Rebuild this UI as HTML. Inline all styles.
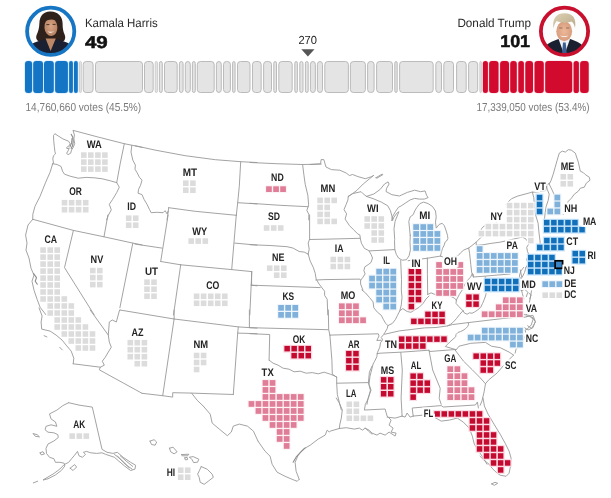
<!DOCTYPE html>
<html lang="en">
<head>
<meta charset="utf-8">
<title>Election results map</title>
<style>
html,body{margin:0;padding:0;background:#fff;}
body{width:611px;height:498px;overflow:hidden;font-family:"Liberation Sans",sans-serif;}
svg{display:block;will-change:transform;}
text{text-rendering:geometricPrecision;}
.st{fill:none;stroke:#989898;stroke-width:0.9;stroke-linejoin:round;stroke-linecap:round;}
.dk{fill:none;stroke:#8c8c8c;stroke-width:1.1;stroke-linejoin:round;stroke-linecap:round;}
.lab{font-family:"Liberation Sans",sans-serif;font-size:11px;font-weight:bold;fill:#242424;}
.halo{fill:#fff;stroke:#fff;stroke-width:3.2;stroke-linejoin:round;}
.nm{font-family:"Liberation Sans",sans-serif;font-size:12px;fill:#2a2a2a;}
.ev{font-family:"Liberation Sans",sans-serif;font-size:17.2px;font-weight:bold;fill:#111;stroke:#111;stroke-width:0.5;}
.vt{font-family:"Liberation Sans",sans-serif;font-size:11.6px;fill:#7a7a7a;}
.g{fill:#dcdcdc;}.lr{fill:#e07d97;}.dr{fill:#c50a30;}.lb{fill:#7fb1da;}.db{fill:#126fb9;}
</style>
</head>
<body>
<svg width="611" height="498" viewBox="0 0 611 498">
<rect width="611" height="498" fill="#fff"/>

<g id="header">
<defs>
<filter id="halo" color-interpolation-filters="sRGB" filterUnits="userSpaceOnUse" x="0" y="120" width="611" height="378">
<feMorphology in="SourceAlpha" operator="dilate" radius="1.5" result="d"/>
<feFlood flood-color="#fff" result="w"/>
<feComposite in="w" in2="d" operator="in" result="h"/>
<feMerge><feMergeNode in="h"/><feMergeNode in="SourceGraphic"/></feMerge>
</filter>
<clipPath id="cpH"><circle cx="50.7" cy="31.3" r="23"/></clipPath>
<clipPath id="cpT"><circle cx="564.5" cy="31.3" r="23"/></clipPath>
<radialGradient id="gfH" cx="0.5" cy="0.45" r="0.6"><stop offset="0" stop-color="#d9a585"/><stop offset="1" stop-color="#b47e5f"/></radialGradient>
<radialGradient id="gfT" cx="0.5" cy="0.5" r="0.6"><stop offset="0" stop-color="#edb899"/><stop offset="1" stop-color="#d39878"/></radialGradient>
<linearGradient id="ghT" x1="0" y1="0" x2="1" y2="1"><stop offset="0" stop-color="#ddd2b6"/><stop offset="1" stop-color="#b9a986"/></linearGradient>
</defs>
<g clip-path="url(#cpH)">
<rect x="25" y="5" width="52" height="53" fill="#fcfcfc"/>
<path d="M50.6 11.6 C43.5 11.2 39.6 16.5 39.4 23 C39.2 28 38.4 31.5 36.6 35 C35.6 37.5 36.4 39.6 38 41 L64 41 C65.4 39.4 65.6 37 64.6 34.6 C63 31 62.6 27.5 62.6 23.5 C62.6 16.6 58 11.9 50.6 11.6Z" fill="#2e201b"/>
<path d="M27 58 L29.5 46.5 C32.5 42.3 39 40.8 44.5 39.2 L57 39.2 C62.5 40.8 69 42.3 72 46.5 L74.5 58Z" fill="#1a2032"/>
<path d="M45.6 38.6 L50.6 51 L55.8 38.6Z" fill="#bd8767"/>
<ellipse cx="50.9" cy="27.2" rx="6.5" ry="8.9" fill="url(#gfH)" transform="rotate(-4 50.9 27.2)"/>
<path d="M43.6 22.6 C44.6 16.4 53.6 14.6 58 21.6 C54.6 18.6 47.6 18.6 43.6 22.6Z" fill="#2e201b"/>
<path d="M47.4 31.2 Q50.9 34.4 54.4 31 Q50.9 32.6 47.4 31.2Z" fill="#fff"/>
<path d="M46.4 24.6 h3 M52.6 24.4 h3" stroke="#3a261e" stroke-width="0.9" fill="none"/>
</g>
<circle cx="50.7" cy="31.3" r="23.6" fill="none" stroke="#1676c4" stroke-width="3.8"/>
<g clip-path="url(#cpT)">
<rect x="539" y="5" width="52" height="53" fill="#fcfcfc"/>
<path d="M543 58 L545.5 46.5 C548.5 42.3 554.5 40.6 558.8 39 L570 39 C574.3 40.6 580.3 42.3 583.3 46.5 L586 58Z" fill="#1a2030"/>
<path d="M558.4 38.4 L564.3 55 L570.2 38.4Z" fill="#eef1f6"/>
<path d="M563 42.6 L565.7 42.6 L566.9 55 L561.9 55Z" fill="#3a5f90"/>
<ellipse cx="564.2" cy="31.2" rx="7.9" ry="10" fill="url(#gfT)"/>
<path d="M553.6 28.6 C552 19.4 555.6 13.2 564.6 13.2 C573 13.2 576.6 18.6 575 28 C574.4 25 573.4 22.8 571.4 21.6 C567 23.6 560.4 22.6 556.8 21 C555 23 554 25.4 553.6 28.6Z" fill="url(#ghT)"/>
<path d="M559.8 35.4 Q564.2 38.6 568.6 35.4 Q564.2 37 559.8 35.4Z" fill="#fff"/>
<path d="M559.2 28 h3.2 M566 28 h3.2" stroke="#8a6a55" stroke-width="0.9" fill="none"/>
</g>
<circle cx="564.5" cy="31.3" r="23.6" fill="none" stroke="#c8102e" stroke-width="3.8"/>
<text class="nm" x="84.9" y="26.5" textLength="72.8" lengthAdjust="spacingAndGlyphs">Kamala Harris</text>
<text class="ev" x="84.9" y="47.8" textLength="22.9" lengthAdjust="spacingAndGlyphs">49</text>
<text class="nm" x="457.4" y="27.3" textLength="73.6" lengthAdjust="spacingAndGlyphs">Donald Trump</text>
<text class="ev" x="500.2" y="47.3" textLength="29.9" lengthAdjust="spacingAndGlyphs">101</text>
<text x="298.4" y="43.7" font-size="11.7" fill="#222" textLength="18.6" lengthAdjust="spacingAndGlyphs">270</text>
<path d="M301.3 49.3 L314.5 49.3 L307.9 56.5Z" fill="#555"/>
<rect x="24.4" y="60.4" width="8.3" height="33.2" rx="3.6" fill="#c6e4fb"/>
<rect x="25" y="61" width="7.1" height="32" rx="3" fill="#1575c5"/>
<rect x="32.6" y="60.4" width="11" height="33.2" rx="3.6" fill="#c6e4fb"/>
<rect x="33.2" y="61" width="9.8" height="32" rx="3" fill="#1575c5"/>
<rect x="43.4" y="60.4" width="11" height="33.2" rx="3.6" fill="#c6e4fb"/>
<rect x="44" y="61" width="9.8" height="32" rx="3" fill="#1575c5"/>
<rect x="54.5" y="60.4" width="14" height="33.2" rx="3.6" fill="#c6e4fb"/>
<rect x="55.1" y="61" width="12.8" height="32" rx="3" fill="#1575c5"/>
<rect x="68.5" y="60.4" width="5" height="33.2" rx="2.5" fill="#c6e4fb"/>
<rect x="69.1" y="61" width="3.8" height="32" rx="1.9" fill="#1575c5"/>
<rect x="73.4" y="60.4" width="5" height="33.2" rx="2.5" fill="#c6e4fb"/>
<rect x="74" y="61" width="3.8" height="32" rx="1.9" fill="#1575c5"/>
<rect x="79.4" y="61.4" width="2" height="31.2" rx="1.4" fill="#e6e6e6" stroke="#c0c0c0" stroke-width="0.7"/>
<rect x="83.2" y="61.5" width="9.9" height="31" rx="3" fill="#e4e4e4" stroke="#b4b4b4" stroke-width="0.9"/>
<rect x="95.5" y="61.5" width="47" height="31" rx="3" fill="#e4e4e4" stroke="#b4b4b4" stroke-width="0.9"/>
<rect x="144.5" y="61.5" width="8.7" height="31" rx="3" fill="#e4e4e4" stroke="#b4b4b4" stroke-width="0.9"/>
<rect x="155.2" y="61.4" width="2.2" height="31.2" rx="1.5" fill="#e6e6e6" stroke="#c0c0c0" stroke-width="0.7"/>
<rect x="159.4" y="61.5" width="2.9" height="31" rx="1.9" fill="#e4e4e4" stroke="#b4b4b4" stroke-width="0.9"/>
<rect x="164.5" y="61.5" width="12.7" height="31" rx="3" fill="#e4e4e4" stroke="#b4b4b4" stroke-width="0.9"/>
<rect x="179.4" y="61.5" width="3.7" height="31" rx="2.3" fill="#e4e4e4" stroke="#b4b4b4" stroke-width="0.9"/>
<rect x="185.3" y="61.5" width="5" height="31" rx="3" fill="#e4e4e4" stroke="#b4b4b4" stroke-width="0.9"/>
<rect x="192.4" y="61.5" width="2.9" height="31" rx="1.9" fill="#e4e4e4" stroke="#b4b4b4" stroke-width="0.9"/>
<rect x="197.3" y="61.5" width="16.9" height="31" rx="3" fill="#e4e4e4" stroke="#b4b4b4" stroke-width="0.9"/>
<rect x="216.4" y="61.5" width="4.9" height="31" rx="2.9" fill="#e4e4e4" stroke="#b4b4b4" stroke-width="0.9"/>
<rect x="223.5" y="61.5" width="6.9" height="31" rx="3" fill="#e4e4e4" stroke="#b4b4b4" stroke-width="0.9"/>
<rect x="232.6" y="61.5" width="2.5" height="31" rx="1.7" fill="#e4e4e4" stroke="#b4b4b4" stroke-width="0.9"/>
<rect x="237.5" y="61.5" width="12.5" height="31" rx="3" fill="#e4e4e4" stroke="#b4b4b4" stroke-width="0.9"/>
<rect x="252.5" y="61.5" width="8.7" height="31" rx="3" fill="#e4e4e4" stroke="#b4b4b4" stroke-width="0.9"/>
<rect x="263.6" y="61.5" width="7.9" height="31" rx="3" fill="#e4e4e4" stroke="#b4b4b4" stroke-width="0.9"/>
<rect x="273.8" y="61.5" width="2.7" height="31" rx="1.8" fill="#e4e4e4" stroke="#b4b4b4" stroke-width="0.9"/>
<rect x="278.8" y="61.5" width="13.4" height="31" rx="3" fill="#e4e4e4" stroke="#b4b4b4" stroke-width="0.9"/>
<rect x="294.8" y="61.5" width="2.6" height="31" rx="1.8" fill="#e4e4e4" stroke="#b4b4b4" stroke-width="0.9"/>
<rect x="299.8" y="61.5" width="3.2" height="31" rx="2" fill="#e4e4e4" stroke="#b4b4b4" stroke-width="0.9"/>
<rect x="305.4" y="61.5" width="2.8" height="31" rx="1.8" fill="#e4e4e4" stroke="#b4b4b4" stroke-width="0.9"/>
<rect x="310.4" y="61.5" width="5" height="31" rx="2.9" fill="#e4e4e4" stroke="#b4b4b4" stroke-width="0.9"/>
<rect x="317.4" y="61.5" width="5.1" height="31" rx="3" fill="#e4e4e4" stroke="#b4b4b4" stroke-width="0.9"/>
<rect x="324.8" y="61.5" width="23.6" height="31" rx="3" fill="#e4e4e4" stroke="#b4b4b4" stroke-width="0.9"/>
<rect x="350.4" y="61.5" width="15" height="31" rx="3" fill="#e4e4e4" stroke="#b4b4b4" stroke-width="0.9"/>
<rect x="367.6" y="61.5" width="6.5" height="31" rx="3" fill="#e4e4e4" stroke="#b4b4b4" stroke-width="0.9"/>
<rect x="376.6" y="61.5" width="15.9" height="31" rx="3" fill="#e4e4e4" stroke="#b4b4b4" stroke-width="0.9"/>
<rect x="394.8" y="61.5" width="2.4" height="31" rx="1.7" fill="#e4e4e4" stroke="#b4b4b4" stroke-width="0.9"/>
<rect x="399.6" y="61.5" width="33.6" height="31" rx="3" fill="#e4e4e4" stroke="#b4b4b4" stroke-width="0.9"/>
<rect x="435.8" y="61.5" width="5.7" height="31" rx="3" fill="#e4e4e4" stroke="#b4b4b4" stroke-width="0.9"/>
<rect x="443.8" y="61.5" width="9.7" height="31" rx="3" fill="#e4e4e4" stroke="#b4b4b4" stroke-width="0.9"/>
<rect x="456.6" y="61.5" width="9.6" height="31" rx="3" fill="#e4e4e4" stroke="#b4b4b4" stroke-width="0.9"/>
<rect x="468.6" y="61.5" width="9.1" height="31" rx="3" fill="#e4e4e4" stroke="#b4b4b4" stroke-width="0.9"/>
<rect x="479.8" y="61.4" width="1.6" height="31.2" rx="1.2" fill="#e6e6e6" stroke="#c0c0c0" stroke-width="0.7"/>
<rect x="482.3" y="60.4" width="6.2" height="33.2" rx="3.1" fill="#fad5dd"/>
<rect x="482.9" y="61" width="5" height="32" rx="2.5" fill="#d20a2e"/>
<rect x="488.5" y="60.4" width="10.6" height="33.2" rx="3.6" fill="#fad5dd"/>
<rect x="489.1" y="61" width="9.4" height="32" rx="3" fill="#d20a2e"/>
<rect x="499.5" y="60.4" width="10.1" height="33.2" rx="3.6" fill="#fad5dd"/>
<rect x="500.1" y="61" width="8.9" height="32" rx="3" fill="#d20a2e"/>
<rect x="509.6" y="60.4" width="7.8" height="33.2" rx="3.6" fill="#fad5dd"/>
<rect x="510.2" y="61" width="6.6" height="32" rx="3" fill="#d20a2e"/>
<rect x="517.7" y="60.4" width="6.8" height="33.2" rx="3.4" fill="#fad5dd"/>
<rect x="518.3" y="61" width="5.6" height="32" rx="2.8" fill="#d20a2e"/>
<rect x="524.7" y="60.4" width="8.9" height="33.2" rx="3.6" fill="#fad5dd"/>
<rect x="525.3" y="61" width="7.7" height="32" rx="3" fill="#d20a2e"/>
<rect x="533.9" y="60.4" width="10.5" height="33.2" rx="3.6" fill="#fad5dd"/>
<rect x="534.5" y="61" width="9.3" height="32" rx="3" fill="#d20a2e"/>
<rect x="544.6" y="60.4" width="28.2" height="33.2" rx="3.6" fill="#fad5dd"/>
<rect x="545.2" y="61" width="27" height="32" rx="3" fill="#d20a2e"/>
<rect x="573" y="60.4" width="6.5" height="33.2" rx="3.2" fill="#fad5dd"/>
<rect x="573.6" y="61" width="5.3" height="32" rx="2.6" fill="#d20a2e"/>
<rect x="579.5" y="60.4" width="9.8" height="33.2" rx="3.6" fill="#fad5dd"/>
<rect x="580.1" y="61" width="8.6" height="32" rx="3" fill="#d20a2e"/>
<text class="vt" x="25.5" y="110.7" textLength="115.6" lengthAdjust="spacingAndGlyphs">14,760,660 votes (45.5%)</text>
<text class="vt" x="476.4" y="110.7" textLength="113.2" lengthAdjust="spacingAndGlyphs">17,339,050 votes (53.4%)</text>
</g>
<g id="borders" class="st">
<path d="M73.2 130.4 L98.3 137.1 L124.3 143.7 L142 147.3"/>
<path d="M52.7 163.7 L57.1 164.5 L61.1 166.5 L62.5 171.2 L64.5 174.2 L70.2 176.2 L78.2 178.2 L86.2 177.4 L94.2 177.8 L102.3 178.8 L110.3 180.8 L116.7 182.6"/>
<path d="M124.3 143.7 L120.3 163.1 L116.7 182.6"/>
<path d="M52.7 163.7 L50.1 172.2 L45.7 182.2 L40.1 196.2 L35 206.3 L32.8 214.3 L32.8 219.3"/>
<path d="M116.7 182.6 L119.3 187.2 L116.7 192.6 L112.7 199.3 L109.3 204.3 L111.3 209.9 L108.3 215.3 L106.7 219.9"/>
<path d="M135 145.7 L155.1 150.1 L185.2 155.7 L215.3 159.7 L240.7 161.7 L257 162.5"/>
<path d="M240.7 161.7 L239.3 186.2 L237.7 202.7 L236.3 215.3"/>
<path d="M237.7 202.7 L257 203.9"/>
<path d="M168.7 207.7 L195.2 211.3 L236.3 215.3"/>
<path d="M168.7 207.7 L167.1 219.9"/>
<path d="M131.8 145.3 L131 152.1 L132.8 160.1 L135.4 165.1 L135 169.2 L137 172.6 L139.4 177.2 L142 180.2 L140.6 185.2 L138.6 189.2 L138 193.2 L142 194.6 L144 199.3 L147 204.3 L149.4 209.3 L151.1 212.7 L157.1 212.3 L163.1 212.7 L165.1 210.7 L167.1 213.9 L168.1 211.3"/>
<path d="M250 162.5 L276.1 163.7 L302.6 164.5 L321.2 164.1"/>
<path d="M302.6 164.5 L303.8 174.2 L305.2 184.2 L307.8 195.2 L308.6 204.3 L308.2 206.7 L306.8 210.3 L308.8 214.3 L308.8 219.9"/>
<path d="M250 203.3 L280.1 205.3 L308.2 206.7"/>
<path d="M549.2 184.2 L551.2 180.2 L553.2 174.2 L555.2 167.2 L557.2 160.1 L559.3 153.1 L562.3 151.1 L565.3 152.1 L568.3 149.7 L571.3 150.1 L575.3 153.1 L578.3 162.1 L580.3 171.2 L583.3 172.6 L585.3 174.6 L589.3 177.2 L590 180.2 L586.3 183.2 L584.3 187.2 L580.3 188.2 L578.3 191.2 L574.3 194.2 L571.3 198.3 L568.3 201.3 L566.3 205.3 L564.3 208.3 L563.3 214.3"/>
<path d="M549.2 184.2 L552.2 190.2 L560.3 208.3"/>
<path d="M546.2 184.6 L547.2 189.2 L549.2 194.2 L548.2 200.3 L546.2 206.3 L545.2 212.3 L544.6 218.3"/>
<path d="M32.8 219.3 L73.4 230.4 L104 236.8 L132.8 243.1 L142 244.9"/>
<path d="M73.4 230.4 L64.5 267.6 L94.2 314.9"/>
<path d="M132.8 243.1 L119.9 307.7"/>
<path d="M107.9 215 L104 236.8"/>
<path d="M32.8 219.3 L28 225 L25.6 235.1 L27 243.1 L26 250.1 L29 258.1 L31 268.2 L34 275.2 L32 281.2 L34 290.2 L37.1 299.3 L40.1 307.3 L46.1 314.9"/>
<path d="M168.1 215 L160.7 261.5"/>
<path d="M135 244.1 L162.1 248.1"/>
<path d="M160.7 261.5 L180.7 264.8"/>
<path d="M180.7 264.8 L173.5 314.9"/>
<path d="M180.7 264.8 L231.7 269.6 L251.8 271.6"/>
<path d="M236.3 215 L231.7 269.6"/>
<path d="M251.8 271.6 L249.8 314.9"/>
<path d="M234.7 243.1 L257 245.1"/>
<path d="M251 285.2 L257 285.8"/>
<path d="M250 244.7 L270.1 245.5 L287.1 246.7 L293.1 248.1 L299.2 251.5 L304.2 252.1 L308.2 254.1"/>
<path d="M309.6 215 L309.6 239.1 L308.2 243.1 L309.2 249.1 L308.2 254.1"/>
<path d="M308.2 254.1 L310.2 261.1 L313.2 267.2 L315.2 273.2 L316.2 279.2 L319.2 284.2 L324.6 291.2 L324.6 295.3 L327.2 299.3 L327.8 314.9"/>
<path d="M251.6 285.2 L320.2 287.6"/>
<path d="M251.6 272.2 L251.6 285.2"/>
<path d="M408.1 260.7 L428.2 258.1 L440.2 256.1"/>
<path d="M39.1 308 L42.1 316 L41.1 322 L41.7 329.1 L50.1 331.1 L56.1 335.1 L62.1 340.1 L66.1 345.1 L71.2 351.1 L73.8 358.2 L73.2 363.8"/>
<path d="M73.2 363.8 L100.3 367.2"/>
<path d="M119.9 310 L119.3 311 L116.3 322 L112.3 320 L109.3 322 L108.3 335.1 L109.3 342.1 L111.3 347.1 L108.3 352.1 L105.3 357.2 L102.3 361.2 L104.3 365.2 L100.3 367.2 L99.3 369.8 L142 393.3"/>
<path d="M90.2 310 L108.3 335.1"/>
<path d="M44.1 335.7 L46.9 336.9"/>
<path d="M59.7 347.3 L62.3 349.9"/>
<path d="M119.9 310 L174.1 319 L238.3 326.9 L257 328.1"/>
<path d="M237.7 333.1 L257 333.7"/>
<path d="M238.3 326.9 L237.7 333.1 L233.3 394.5"/>
<path d="M174.1 319 L162.7 395.7"/>
<path d="M142 393.3 L162.7 395.7 L172.7 397.1 L172.7 392.7 L191.6 393.1 L233.3 394.5"/>
<path d="M191.6 393.1 L197.2 400.3 L203.2 406"/>
<path d="M174.1 310 L174.1 319"/>
<path d="M249.4 310 L249.4 327.7"/>
<path d="M250 327.7 L328.3 329.7"/>
<path d="M250 333.7 L269.7 334.5 L269.1 360.2"/>
<path d="M269.1 360.2 L273.1 363.2 L278.1 365.2 L283.1 368.2 L289.1 369.2 L294.1 371.8 L300.2 371.2 L306.2 373.2 L312.2 372.6 L318.2 373.8 L324.2 372.2 L330.3 374.2 L334.3 375.8 L336.7 377.2"/>
<path d="M328.3 310 L328.7 329.7 L329.9 335.1"/>
<path d="M329.9 335.1 L331.9 360.2 L332.3 374.2 L336.7 377.2"/>
<path d="M336.7 377.2 L336.7 383.2 L337.3 394.3 L339.3 402.3 L341.3 409.9"/>
<path d="M336.7 383.2 L368.4 382.6"/>
<path d="M372 366.2 L369.4 372.2 L368.4 382.6 L370.4 390.3 L368.4 398.3 L365.4 404.3 L364.4 409.9"/>
<path d="M523.1 317.6 L529.2 316 L533.2 319 L531.2 325 L527.2 329.1 L525.1 330.1 L526.1 334.1 L523.1 340.1 L520.1 345.1 L516.1 349.1 L515.1 353.1"/>
<path d="M150 441.1 L154.1 439.7 L156.7 442.1 L155.1 445.2 L151.5 444.5 L150 441.1"/>
<path d="M169.5 448.2 L173.1 447.2 L177.1 451.8 L174.1 453.8 L170.7 451.8 L169.5 448.2"/>
<path d="M181.5 454.6 L188.8 454.2 L187.6 455.8 L182.2 455.8 L181.5 454.6"/>
<path d="M184.8 457.8 L187.2 457.4 L187.6 459.6 L185.2 459.8 L184.8 457.8"/>
<path d="M189.6 457.2 L193.2 456.6 L198.8 459.2 L197.6 462.2 L193.6 462.6 L192.2 459.8 L189.6 457.2"/>
<path d="M201.2 466.6 L207.2 469.2 L212.2 474.2 L213.3 477.3 L208.2 481.3 L204.2 484.3 L200.2 482.3 L199.2 477.3 L197.6 474.2 L199.6 470.2 L201.2 466.6"/>
<path d="M203.2 406 L210.2 414.1 L212.2 423.1 L219.3 429.1 L227.3 435.7 L231.3 432.1 L233.3 426.1 L239.3 424.1 L247.4 426.1 L253.4 431.1 L258 441.1"/>
<path d="M258 441.1 L265 451.2 L270.1 456.2 L272.1 464.2 L277.1 472.2 L285.1 476.3 L292.1 479.3 L297.2 481.3 L299.2 479.3"/>
<path d="M299.2 479.3 L296.1 471.2 L295.1 462.2 L298.2 455.2 L303.2 449.2 L310.2 445.2 L318.2 439.1 L325.2 435.1 L327.2 430.1 L329.3 432.1 L330.3 431.1 L339.3 428.5"/>
<path d="M339.3 428.5 L346.3 427.7 L354.3 429.1 L359.3 428.1 L362.4 430.1 L365.4 428.1 L368.4 431.1 L372 434.1"/>
<path d="M336.3 398 L339.3 403 L342.3 410 L341.3 418.1 L339.9 424.1 L339.3 428.5"/>
<path d="M365 410 L385.1 409 L387.1 416.1 L391.1 420.1 L389.1 425.1 L393.1 428.1 L391.1 432.1 L396.1 433.1 L395.1 436.1 L389.1 432.1 L385.1 435.1 L380 433.1 L377 435.1 L372 433.1 L369 430.1 L365 428.1"/>
<path d="M387.1 417.1 L395.1 418.1 L402.1 416.1"/>
<path d="M402.1 416.1 L405.1 417.1 L407.1 413 L410.1 417.1 L413.2 416.1"/>
<path d="M413.2 416.1 L412.2 408 L441.2 405.6 L443.3 407 L475.4 405 L477.4 402 L478.4 408"/>
<path d="M413.2 416.1 L423.2 415.1 L434.2 417.1 L441.2 421.1 L449.3 420.1 L457.3 418.1 L463.3 422.1 L469.3 428.1 L472.3 436.1 L474.3 444.1 L479.4 452.2 L483.4 458.2 L487 464.2"/>
<path d="M483 398 L484.4 406 L488 414.1 L494 424.1 L500.1 434.1 L505.1 443.1 L509.1 451.2 L511.1 458.2 L510.5 466.2 L509.1 473.2 L506.1 476.3 L500.1 475.2 L496.1 472.2 L492 468.2 L489 464.2 L484 460.2 L480 456.2"/>
<path d="M491.6 483.9 L495 482.3 L497.7 483.3 L494.4 485.3 L491.6 483.9"/>
<path d="M429 350.2 L432.7 370 L440.2 388.3 L439.2 398.3 L441.2 404.3"/>
<path d="M520.3 270 L521.8 277.4 L519.6 284.9 L521.1 290.8 L524.8 289.3 L527.8 292.3 L526.3 296.7"/>
<path d="M531.5 290.8 L530 299.7 L527.8 308.6 L526.3 314.6"/>
<path d="M524.1 314.6 L528.5 315.3 L533 317.8 L535.2 321.7 L533 327.6 L528.1 330 L524.8 327.9"/>
<path d="M523.8 267.3 L520.8 271 L519.3 276.2 L522.3 281.4 L520.8 287.4 L522.3 293.3 L523.8 299"/>
<path d="M526 267.3 L524.5 272.5 L522.3 277"/>
<path d="M529 293.3 L531.2 294.8 L529.7 299"/>
<path d="M310 164.5 L320.6 163.8 L321.1 159.6 L323.8 159.6 L326 167 L331.3 169.6 L339.8 170.2 L346.2 173 L349.4 175.5 L352.6 174.5 L357.9 176.6 L365.3 178.7 L371.7 176.6 L373.8 175.3 L369.6 178.7 L363.2 184 L356.8 190.4 L352.6 193.6 L348.3 196.4"/>
<path d="M376 177.7 L382.3 174 L382.8 174.7 L376.6 178.3 L376 177.7"/>
<path d="M348.3 196.4 L352.6 193.6 L361.1 191.7 L363.2 193.8 L366.4 196.4"/>
<path d="M366.4 196.4 L373.8 198.9 L381.3 202.1 L387.7 205.7 L390.4 210.6 L391.9 216 L392.6 220.2"/>
<path d="M366.4 196.4 L373.8 194 L380.2 189.4 L384.5 184 L388.1 181.9 L389.1 184 L386.6 188.3 L386 191.5 L391.9 194.7 L399.4 196 L407.3 192.4 L414.7 190.2 L420.6 191.7 L425.1 190.9 L426.6 195.4 L428.1 197.6 L424.4 199.1 L419.2 199.1 L414.7 198.4 L410.2 199.9 L405.8 202.8 L401.3 205.8 L398.4 207.3 L395.4 211.7 L392.4 216.9 L391.7 220.6"/>
<path d="M348.3 196.4 L347.9 200 L346.2 204.3 L344 209.6 L346.6 213.8 L345.1 219.1 L349.4 225.5 L353.6 229.8 L357.9 234 L359.9 235 L360.3 238.3 L361.4 243.2 L364.4 248.4 L368.8 250.6 L371 254.3 L372.5 258 L371 262.5 L368.1 264.7 L364.8 266.9 L363.9 270.6 L365.1 273.9 L362.9 277.3 L360.6 280.3 L360.6 284 L362.9 290"/>
<path d="M392.6 220.2 L394 217 L397.2 212.8 L398.9 211.7 L396.8 217 L395.1 221.3 L394 228.7 L394.7 239.4 L394.5 240.9 L394.8 249.6 L396.3 254.3 L398.5 258 L402.2 260.2 L406.4 259.7 L409.1 255.8 L410.4 249.9 L410 242.4 L410.3 235"/>
<path d="M309.6 239.5 L325 239.2 L360.3 238.3"/>
<path d="M369.3 250.9 L394.8 249.6"/>
<path d="M315.8 280 L325 279.6 L359.9 279.1 L360.6 280.3"/>
<path d="M506.2 204 L511.5 198.7 L517.9 196 L531.7 192.3 L536.4 192 L545.5 190.9 L547.2 184.6 L549.3 183.2"/>
<path d="M532.3 191.9 L533.8 197.7 L534.9 212.6 L538.1 223.2 L539.1 233.8 L540.2 242.3 L539.1 248.7"/>
<path d="M455.5 350.6 L459 346.2 L470.8 343.3 L485.5 342.4 L491.4 346.2 L500.3 347.7 L509.1 352.1 L513.6 355.1"/>
<path d="M455.5 350.6 L463.4 361 L472.3 369.8 L479.6 377.2 L485.5 383.7"/>
<path d="M513.6 355.1 L506.2 362.4 L497.3 372.8 L488.5 380.1 L485.5 383.7 L484.1 391.9 L482 400.8 L480.2 405.2"/>
<path d="M377 353.6 L380 353.2 L402.3 352.1 L429 350.2 L429.5 351.5 L455.5 349.5"/>
<path d="M400.8 352.7 L402.3 370 L401.1 398 L402.1 416.1"/>
<path d="M68.7 402.7 L79 405.1 L92.3 407.1 L102 449.3 L107 452.3 L112.9 453.4 L117.3 452.3 L123.2 457.3 L130.6 462.3 L135.6 465.2 L135 469.1 L130.6 470.5 L124.7 466.1 L118.8 461.1 L114.4 457.3 L110 455.8 L105.5 454.3 L102 452.8 L96.7 453.4 L90.8 452.8 L86.4 451.4 L83.4 452.3 L85.5 454.3 L82.5 457.3 L79 455.8 L77.5 451.4 L74.6 455.2 L71.6 458.7 L68.7 462.3 L64.2 464.6 L59.8 469.1 L53.9 473.5 L48 477 L43 480 L48 478.8 L55.4 475 L61.3 470.5 L64.8 466.1 L64.2 463.2 L59.8 462.3 L55.4 462.3 L53.9 458.7 L49.5 457.3 L46.5 453.4 L46 448.4 L48 444 L53.9 441 L58.3 437.5 L57.8 434.6 L53.9 432.8 L48 432.2 L45.1 429.8 L46 426.3 L51 424.8 L56.9 426.3 L55.4 421.9 L51 418.9 L49.5 413.9 L56.9 410.1 L62.8 405.6 L68.7 402.7"/>
<path d="M114.4 454.3 L121.8 460.2 L127.7 466.1 L132.1 469.1"/>
<path d="M117.3 455.8 L123.2 462.3 L129.1 467.6"/>
<path d="M120.3 455.8 L126.2 461.1 L132.7 466.4"/>
<path d="M70.1 468.2 L74.6 464.6 L76.6 467 L73.1 470.5 L70.1 468.2"/>
<path d="M33.3 433.7 L37.1 434.6 L39.5 436.9 L35.3 436.3 L33.3 433.7"/>
<path d="M40.1 452.8 L43 451.7 L44.5 454 L41.2 454.9 L40.1 452.8"/>
<path d="M33.3 482.9 L37.7 481.2"/>
<path d="M526.4 316.6 L532.9 315.3 L535.5 321.9 L531.6 328.4 L527.7 325.8"/>
<path d="M73.2 130.9 L74.4 134.9 L73.9 138.9 L74.7 143.5 L73.2 147.5 L71.5 150 L70.7 153.2 L68.1 154.6 L66.6 153.4 L68.1 150.9 L69.2 148.1 L66.9 148.6 L66.6 147.5 L69.6 145.4 L70 143.5 L68.6 141.2 L62.9 138.9 L58.3 136 L54.9 133.7 L53.5 135.5 L53.7 140.6 L54.3 146.3 L54.9 151.5 L55.5 153.8 L53.5 155.7 L52.8 158.9 L53.5 163 L52.6 164.1"/>
<path d="M410.2 235.5 L409.5 228.1 L408.8 221.4 L410.2 216.9 L413.2 214.7 L414.7 211 L416.9 207.3 L419.9 203.6 L423.6 202.1 L428.1 203.6 L432.5 206.5 L435.5 211 L436.2 216.9 L435.5 222.1 L436.2 228.1 L439.2 224.4 L442.2 223.3 L444.4 225.8 L446.2 231 L447.5 235.3 L447.9 238.5 L446.6 241 L445 242.2 L444.2 245.1 L442.5 248.4 L441.3 252.5 L440.5 256.1"/>
<path d="M361.9 290 L365.6 293 L369.4 297.4 L373.1 301.9 L373.8 307.8 L377.5 312.3 L381.2 315.2 L383.5 319.7 L385.7 323.4 L387.9 325.6 L387.2 328.6 L385 332.3 L383.5 334.6 L381.2 337.5 L382.7 339.8 L380.5 342.7 L379.8 347.2 L377.5 352.4 L376.8 356.8 L374.6 361.3 L373.1 364 L370 376.2 L369 384.2 L371 390.3 L368 398.3 L367 404.3"/>
<path d="M387.9 325.6 L392.4 323.4 L395.3 319.7 L397.6 315.2 L399.8 310.8 L402.8 308.6 L407.2 311.5 L410.9 312.3 L419.4 307.1 L423.1 303.4 L426 299 L429 296"/>
<path d="M400.7 260.5 L401.5 279.6 L401.3 290 L402 297.4 L401.3 304.9 L399.8 310.8"/>
<path d="M329.9 335.1 L378.3 333.8 L379 336 L376.8 340.5 L381.2 340.2"/>
<path d="M427.4 258 L427.4 274.3 L427.7 294.4"/>
<path d="M427.7 294.4 L431.1 292.9 L434.9 294.4 L439.3 295.8 L444.5 295.1 L449.7 295.8 L454.2 298.1 L456.4 300"/>
<path d="M456.4 300 L459.4 294.4 L462.3 289.9 L464.6 284.7 L467.5 280.2 L470.5 277.3 L472.3 273.6"/>
<path d="M473.2 274.3 L473.5 277 L485.3 276.1 L510 274"/>
<path d="M485.3 276.7 L486.1 291.4"/>
<path d="M384.5 334.3 L399.3 330.9 L424.6 327.9 L436 327.5 L447.5 325.9 L452.4 324.6 L468.3 322.6 L486 320.5 L503.9 318.4 L523.3 316.5"/>
<path d="M463 310.7 L459.7 314.4 L456.5 318.5 L453.6 321.8 L450.7 324.2 L447.5 325.9"/>
<path d="M456.4 300 L456 303.4 L458.9 306.6 L463 310.7"/>
<path d="M463 310.7 L464.6 313.2 L467.1 314.2 L469.6 312.8 L472 313.3 L474.5 312 L477.7 309.9 L480.6 307.5 L482.6 303.4 L484.3 299.3 L485.5 296 L486.1 293.6"/>
<path d="M455.5 349.5 L445.3 346.5 L449.8 342 L455.7 336.8 L456 334.5 L458.1 332.4 L460.5 331.6 L463 330.4 L465.5 328.7 L467.5 326.7 L468.7 324.2 L468.3 322.6"/>
<path d="M440.5 256.1 L444 257.5 L448 256.5 L452 257.5 L455.5 256.8 L458.1 255.7 L460.5 252.9 L463.8 250 L468.7 248 L472 245.5 L476.1 242.2 L478.6 239.8 L480.6 237.7 L481.7 237 L479.6 233.4 L481.7 228.5 L483.8 226.2 L490.2 224.5 L496.6 223.2"/>
<path d="M468.7 248 L469.6 253.3 L470.8 264.7 L471.6 272 L473.3 277.2"/>
<path d="M476.1 242.2 L476.3 245.4 L483 244.8 L490.1 243.5 L500 242.2 L511.9 239.5 L522.3 237 L526 239.1 L529 243.6 L526.7 247.3 L527.5 251.7 L529 254.7 L526.7 259.2 L528.2 263.6 L526 267.3"/>
</g>
<g id="blobs" class="dk">
<path d="M33.6 273.6 L36.5 277.6 L35.2 281.2 L37.3 284.2"/>
<path d="M293.1 462.2 L296.1 457.2 L300.2 452.6 L305.2 447.8"/>
<path d="M71.2 134.3 L72.8 137.2 L73.2 141.8 L72.5 145.8 L71.2 148.4"/>
<path d="M72.1 138.3 L71.6 142.9 L70 146.9"/>
</g>
<g id="squares">
<rect x="79.8" y="151.2" width="7.9" height="7.9" fill="#fff"/>
<rect x="86.9" y="151.2" width="7.9" height="7.9" fill="#fff"/>
<rect x="93.9" y="151.2" width="7.9" height="7.9" fill="#fff"/>
<rect x="101" y="151.2" width="7.9" height="7.9" fill="#fff"/>
<rect x="79.8" y="158.1" width="7.9" height="7.9" fill="#fff"/>
<rect x="86.9" y="158.1" width="7.9" height="7.9" fill="#fff"/>
<rect x="93.9" y="158.1" width="7.9" height="7.9" fill="#fff"/>
<rect x="101" y="158.1" width="7.9" height="7.9" fill="#fff"/>
<rect x="79.8" y="165.1" width="7.9" height="7.9" fill="#fff"/>
<rect x="86.9" y="165.1" width="7.9" height="7.9" fill="#fff"/>
<rect x="93.9" y="165.1" width="7.9" height="7.9" fill="#fff"/>
<rect x="101" y="165.1" width="7.9" height="7.9" fill="#fff"/>
<rect class="g" x="81" y="152.3" width="5.6" height="5.6"/>
<rect class="g" x="88" y="152.3" width="5.6" height="5.6"/>
<rect class="g" x="95.1" y="152.3" width="5.6" height="5.6"/>
<rect class="g" x="102.1" y="152.3" width="5.6" height="5.6"/>
<rect class="g" x="81" y="159.3" width="5.6" height="5.6"/>
<rect class="g" x="88" y="159.3" width="5.6" height="5.6"/>
<rect class="g" x="95.1" y="159.3" width="5.6" height="5.6"/>
<rect class="g" x="102.1" y="159.3" width="5.6" height="5.6"/>
<rect class="g" x="81" y="166.3" width="5.6" height="5.6"/>
<rect class="g" x="88" y="166.3" width="5.6" height="5.6"/>
<rect class="g" x="95.1" y="166.3" width="5.6" height="5.6"/>
<rect class="g" x="102.1" y="166.3" width="5.6" height="5.6"/>
<rect x="60.5" y="198.8" width="7.9" height="7.9" fill="#fff"/>
<rect x="67.6" y="198.8" width="7.9" height="7.9" fill="#fff"/>
<rect x="74.6" y="198.8" width="7.9" height="7.9" fill="#fff"/>
<rect x="81.7" y="198.8" width="7.9" height="7.9" fill="#fff"/>
<rect x="60.5" y="205.7" width="7.9" height="7.9" fill="#fff"/>
<rect x="67.6" y="205.7" width="7.9" height="7.9" fill="#fff"/>
<rect x="74.6" y="205.7" width="7.9" height="7.9" fill="#fff"/>
<rect x="81.7" y="205.7" width="7.9" height="7.9" fill="#fff"/>
<rect class="g" x="61.7" y="199.9" width="5.6" height="5.6"/>
<rect class="g" x="68.8" y="199.9" width="5.6" height="5.6"/>
<rect class="g" x="75.8" y="199.9" width="5.6" height="5.6"/>
<rect class="g" x="82.9" y="199.9" width="5.6" height="5.6"/>
<rect class="g" x="61.7" y="206.9" width="5.6" height="5.6"/>
<rect class="g" x="68.8" y="206.9" width="5.6" height="5.6"/>
<rect class="g" x="75.8" y="206.9" width="5.6" height="5.6"/>
<rect class="g" x="82.9" y="206.9" width="5.6" height="5.6"/>
<rect x="124.8" y="214.2" width="7.9" height="7.9" fill="#fff"/>
<rect x="131.8" y="214.2" width="7.9" height="7.9" fill="#fff"/>
<rect x="124.8" y="221.2" width="7.9" height="7.9" fill="#fff"/>
<rect x="131.8" y="221.2" width="7.9" height="7.9" fill="#fff"/>
<rect class="g" x="125.9" y="215.4" width="5.6" height="5.6"/>
<rect class="g" x="132.9" y="215.4" width="5.6" height="5.6"/>
<rect class="g" x="125.9" y="222.4" width="5.6" height="5.6"/>
<rect class="g" x="132.9" y="222.4" width="5.6" height="5.6"/>
<rect x="181.9" y="179.2" width="7.9" height="7.9" fill="#fff"/>
<rect x="188.9" y="179.2" width="7.9" height="7.9" fill="#fff"/>
<rect x="181.9" y="186.2" width="7.9" height="7.9" fill="#fff"/>
<rect x="188.9" y="186.2" width="7.9" height="7.9" fill="#fff"/>
<rect class="g" x="183" y="180.4" width="5.6" height="5.6"/>
<rect class="g" x="190.1" y="180.4" width="5.6" height="5.6"/>
<rect class="g" x="183" y="187.4" width="5.6" height="5.6"/>
<rect class="g" x="190.1" y="187.4" width="5.6" height="5.6"/>
<rect x="187.2" y="237.2" width="7.9" height="7.9" fill="#fff"/>
<rect x="194.3" y="237.2" width="7.9" height="7.9" fill="#fff"/>
<rect x="201.3" y="237.2" width="7.9" height="7.9" fill="#fff"/>
<rect class="g" x="188.4" y="238.3" width="5.6" height="5.6"/>
<rect class="g" x="195.4" y="238.3" width="5.6" height="5.6"/>
<rect class="g" x="202.5" y="238.3" width="5.6" height="5.6"/>
<rect x="265.1" y="185.2" width="7.9" height="7.9" fill="#fdf3f5"/>
<rect x="272.1" y="185.2" width="7.9" height="7.9" fill="#fdf3f5"/>
<rect x="279.2" y="185.2" width="7.9" height="7.9" fill="#fdf3f5"/>
<rect class="lr" x="266.1" y="186.3" width="5.7" height="5.7"/>
<rect class="lr" x="273.2" y="186.3" width="5.7" height="5.7"/>
<rect class="lr" x="280.2" y="186.3" width="5.7" height="5.7"/>
<rect x="262.7" y="224.1" width="7.9" height="7.9" fill="#fff"/>
<rect x="269.7" y="224.1" width="7.9" height="7.9" fill="#fff"/>
<rect x="276.8" y="224.1" width="7.9" height="7.9" fill="#fff"/>
<rect class="g" x="263.8" y="225.2" width="5.6" height="5.6"/>
<rect class="g" x="270.9" y="225.2" width="5.6" height="5.6"/>
<rect class="g" x="277.9" y="225.2" width="5.6" height="5.6"/>
<rect x="265.8" y="264.2" width="7.9" height="7.9" fill="#fff"/>
<rect x="272.8" y="264.2" width="7.9" height="7.9" fill="#fff"/>
<rect x="279.9" y="264.2" width="7.9" height="7.9" fill="#fff"/>
<rect x="272.8" y="271.2" width="7.9" height="7.9" fill="#fff"/>
<rect x="279.9" y="271.2" width="7.9" height="7.9" fill="#fff"/>
<rect class="g" x="266.9" y="265.4" width="5.6" height="5.6"/>
<rect class="g" x="273.9" y="265.4" width="5.6" height="5.6"/>
<rect class="g" x="281" y="265.4" width="5.6" height="5.6"/>
<rect class="g" x="273.9" y="272.4" width="5.6" height="5.6"/>
<rect class="g" x="281" y="272.4" width="5.6" height="5.6"/>
<rect x="277.2" y="303.9" width="7.9" height="7.9" fill="#eef5fc"/>
<rect x="284.2" y="303.9" width="7.9" height="7.9" fill="#eef5fc"/>
<rect x="291.3" y="303.9" width="7.9" height="7.9" fill="#eef5fc"/>
<rect x="277.2" y="310.9" width="7.9" height="7.9" fill="#eef5fc"/>
<rect x="284.2" y="310.9" width="7.9" height="7.9" fill="#eef5fc"/>
<rect x="291.3" y="310.9" width="7.9" height="7.9" fill="#eef5fc"/>
<rect class="lb" x="278.2" y="305" width="5.7" height="5.7"/>
<rect class="lb" x="285.3" y="305" width="5.7" height="5.7"/>
<rect class="lb" x="292.4" y="305" width="5.7" height="5.7"/>
<rect class="lb" x="278.2" y="312" width="5.7" height="5.7"/>
<rect class="lb" x="285.3" y="312" width="5.7" height="5.7"/>
<rect class="lb" x="292.4" y="312" width="5.7" height="5.7"/>
<rect x="283.2" y="344.8" width="7.9" height="7.9" fill="#fbdbe3"/>
<rect x="290.2" y="344.8" width="7.9" height="7.9" fill="#fbdbe3"/>
<rect x="297.3" y="344.8" width="7.9" height="7.9" fill="#fbdbe3"/>
<rect x="304.3" y="344.8" width="7.9" height="7.9" fill="#fbdbe3"/>
<rect x="290.2" y="351.7" width="7.9" height="7.9" fill="#fbdbe3"/>
<rect x="297.3" y="351.7" width="7.9" height="7.9" fill="#fbdbe3"/>
<rect x="304.3" y="351.7" width="7.9" height="7.9" fill="#fbdbe3"/>
<rect class="dr" x="284.4" y="345.9" width="5.5" height="5.5"/>
<rect class="dr" x="291.4" y="345.9" width="5.5" height="5.5"/>
<rect class="dr" x="298.5" y="345.9" width="5.5" height="5.5"/>
<rect class="dr" x="305.5" y="345.9" width="5.5" height="5.5"/>
<rect class="dr" x="291.4" y="352.9" width="5.5" height="5.5"/>
<rect class="dr" x="298.5" y="352.9" width="5.5" height="5.5"/>
<rect class="dr" x="305.5" y="352.9" width="5.5" height="5.5"/>
<rect x="261.6" y="379.1" width="7.9" height="7.9" fill="#fdf3f5"/>
<rect x="268.6" y="379.1" width="7.9" height="7.9" fill="#fdf3f5"/>
<rect x="261.6" y="386" width="7.9" height="7.9" fill="#fdf3f5"/>
<rect x="268.6" y="386" width="7.9" height="7.9" fill="#fdf3f5"/>
<rect x="261.6" y="393" width="7.9" height="7.9" fill="#fdf3f5"/>
<rect x="268.6" y="393" width="7.9" height="7.9" fill="#fdf3f5"/>
<rect x="275.7" y="393" width="7.9" height="7.9" fill="#fdf3f5"/>
<rect x="282.7" y="393" width="7.9" height="7.9" fill="#fdf3f5"/>
<rect x="289.8" y="393" width="7.9" height="7.9" fill="#fdf3f5"/>
<rect x="296.8" y="393" width="7.9" height="7.9" fill="#fdf3f5"/>
<rect x="247.5" y="400" width="7.9" height="7.9" fill="#fdf3f5"/>
<rect x="254.5" y="400" width="7.9" height="7.9" fill="#fdf3f5"/>
<rect x="261.6" y="400" width="7.9" height="7.9" fill="#fdf3f5"/>
<rect x="268.6" y="400" width="7.9" height="7.9" fill="#fdf3f5"/>
<rect x="275.7" y="400" width="7.9" height="7.9" fill="#fdf3f5"/>
<rect x="282.7" y="400" width="7.9" height="7.9" fill="#fdf3f5"/>
<rect x="289.8" y="400" width="7.9" height="7.9" fill="#fdf3f5"/>
<rect x="296.8" y="400" width="7.9" height="7.9" fill="#fdf3f5"/>
<rect x="254.5" y="407" width="7.9" height="7.9" fill="#fdf3f5"/>
<rect x="261.6" y="407" width="7.9" height="7.9" fill="#fdf3f5"/>
<rect x="268.6" y="407" width="7.9" height="7.9" fill="#fdf3f5"/>
<rect x="275.7" y="407" width="7.9" height="7.9" fill="#fdf3f5"/>
<rect x="282.7" y="407" width="7.9" height="7.9" fill="#fdf3f5"/>
<rect x="289.8" y="407" width="7.9" height="7.9" fill="#fdf3f5"/>
<rect x="296.8" y="407" width="7.9" height="7.9" fill="#fdf3f5"/>
<rect x="261.6" y="414" width="7.9" height="7.9" fill="#fdf3f5"/>
<rect x="268.6" y="414" width="7.9" height="7.9" fill="#fdf3f5"/>
<rect x="275.7" y="414" width="7.9" height="7.9" fill="#fdf3f5"/>
<rect x="282.7" y="414" width="7.9" height="7.9" fill="#fdf3f5"/>
<rect x="289.8" y="414" width="7.9" height="7.9" fill="#fdf3f5"/>
<rect x="296.8" y="414" width="7.9" height="7.9" fill="#fdf3f5"/>
<rect x="268.6" y="421" width="7.9" height="7.9" fill="#fdf3f5"/>
<rect x="275.7" y="421" width="7.9" height="7.9" fill="#fdf3f5"/>
<rect x="282.7" y="421" width="7.9" height="7.9" fill="#fdf3f5"/>
<rect x="289.8" y="421" width="7.9" height="7.9" fill="#fdf3f5"/>
<rect x="275.7" y="428" width="7.9" height="7.9" fill="#fdf3f5"/>
<rect x="282.7" y="428" width="7.9" height="7.9" fill="#fdf3f5"/>
<rect x="275.7" y="435" width="7.9" height="7.9" fill="#fdf3f5"/>
<rect x="282.7" y="435" width="7.9" height="7.9" fill="#fdf3f5"/>
<rect x="282.7" y="442" width="7.9" height="7.9" fill="#fdf3f5"/>
<rect class="lr" x="262.6" y="380.1" width="5.7" height="5.7"/>
<rect class="lr" x="269.7" y="380.1" width="5.7" height="5.7"/>
<rect class="lr" x="262.6" y="387.1" width="5.7" height="5.7"/>
<rect class="lr" x="269.7" y="387.1" width="5.7" height="5.7"/>
<rect class="lr" x="262.6" y="394.1" width="5.7" height="5.7"/>
<rect class="lr" x="269.7" y="394.1" width="5.7" height="5.7"/>
<rect class="lr" x="276.8" y="394.1" width="5.7" height="5.7"/>
<rect class="lr" x="283.8" y="394.1" width="5.7" height="5.7"/>
<rect class="lr" x="290.8" y="394.1" width="5.7" height="5.7"/>
<rect class="lr" x="297.9" y="394.1" width="5.7" height="5.7"/>
<rect class="lr" x="248.6" y="401.1" width="5.7" height="5.7"/>
<rect class="lr" x="255.6" y="401.1" width="5.7" height="5.7"/>
<rect class="lr" x="262.6" y="401.1" width="5.7" height="5.7"/>
<rect class="lr" x="269.7" y="401.1" width="5.7" height="5.7"/>
<rect class="lr" x="276.8" y="401.1" width="5.7" height="5.7"/>
<rect class="lr" x="283.8" y="401.1" width="5.7" height="5.7"/>
<rect class="lr" x="290.8" y="401.1" width="5.7" height="5.7"/>
<rect class="lr" x="297.9" y="401.1" width="5.7" height="5.7"/>
<rect class="lr" x="255.6" y="408.1" width="5.7" height="5.7"/>
<rect class="lr" x="262.6" y="408.1" width="5.7" height="5.7"/>
<rect class="lr" x="269.7" y="408.1" width="5.7" height="5.7"/>
<rect class="lr" x="276.8" y="408.1" width="5.7" height="5.7"/>
<rect class="lr" x="283.8" y="408.1" width="5.7" height="5.7"/>
<rect class="lr" x="290.8" y="408.1" width="5.7" height="5.7"/>
<rect class="lr" x="297.9" y="408.1" width="5.7" height="5.7"/>
<rect class="lr" x="262.6" y="415.1" width="5.7" height="5.7"/>
<rect class="lr" x="269.7" y="415.1" width="5.7" height="5.7"/>
<rect class="lr" x="276.8" y="415.1" width="5.7" height="5.7"/>
<rect class="lr" x="283.8" y="415.1" width="5.7" height="5.7"/>
<rect class="lr" x="290.8" y="415.1" width="5.7" height="5.7"/>
<rect class="lr" x="297.9" y="415.1" width="5.7" height="5.7"/>
<rect class="lr" x="269.7" y="422.1" width="5.7" height="5.7"/>
<rect class="lr" x="276.8" y="422.1" width="5.7" height="5.7"/>
<rect class="lr" x="283.8" y="422.1" width="5.7" height="5.7"/>
<rect class="lr" x="290.8" y="422.1" width="5.7" height="5.7"/>
<rect class="lr" x="276.8" y="429.1" width="5.7" height="5.7"/>
<rect class="lr" x="283.8" y="429.1" width="5.7" height="5.7"/>
<rect class="lr" x="276.8" y="436.1" width="5.7" height="5.7"/>
<rect class="lr" x="283.8" y="436.1" width="5.7" height="5.7"/>
<rect class="lr" x="283.8" y="443.1" width="5.7" height="5.7"/>
<rect x="192.7" y="351.6" width="7.9" height="7.9" fill="#fff"/>
<rect x="199.7" y="351.6" width="7.9" height="7.9" fill="#fff"/>
<rect x="192.7" y="358.5" width="7.9" height="7.9" fill="#fff"/>
<rect x="199.7" y="358.5" width="7.9" height="7.9" fill="#fff"/>
<rect x="192.7" y="365.5" width="7.9" height="7.9" fill="#fff"/>
<rect class="g" x="193.8" y="352.7" width="5.6" height="5.6"/>
<rect class="g" x="200.8" y="352.7" width="5.6" height="5.6"/>
<rect class="g" x="193.8" y="359.7" width="5.6" height="5.6"/>
<rect class="g" x="200.8" y="359.7" width="5.6" height="5.6"/>
<rect class="g" x="193.8" y="366.7" width="5.6" height="5.6"/>
<rect x="192.7" y="292.4" width="7.9" height="7.9" fill="#fff"/>
<rect x="199.7" y="292.4" width="7.9" height="7.9" fill="#fff"/>
<rect x="206.8" y="292.4" width="7.9" height="7.9" fill="#fff"/>
<rect x="213.8" y="292.4" width="7.9" height="7.9" fill="#fff"/>
<rect x="220.8" y="292.4" width="7.9" height="7.9" fill="#fff"/>
<rect x="192.7" y="299.3" width="7.9" height="7.9" fill="#fff"/>
<rect x="199.7" y="299.3" width="7.9" height="7.9" fill="#fff"/>
<rect x="206.8" y="299.3" width="7.9" height="7.9" fill="#fff"/>
<rect x="213.8" y="299.3" width="7.9" height="7.9" fill="#fff"/>
<rect x="220.8" y="299.3" width="7.9" height="7.9" fill="#fff"/>
<rect class="g" x="193.8" y="293.5" width="5.6" height="5.6"/>
<rect class="g" x="200.8" y="293.5" width="5.6" height="5.6"/>
<rect class="g" x="207.9" y="293.5" width="5.6" height="5.6"/>
<rect class="g" x="214.9" y="293.5" width="5.6" height="5.6"/>
<rect class="g" x="222" y="293.5" width="5.6" height="5.6"/>
<rect class="g" x="193.8" y="300.5" width="5.6" height="5.6"/>
<rect class="g" x="200.8" y="300.5" width="5.6" height="5.6"/>
<rect class="g" x="207.9" y="300.5" width="5.6" height="5.6"/>
<rect class="g" x="214.9" y="300.5" width="5.6" height="5.6"/>
<rect class="g" x="222" y="300.5" width="5.6" height="5.6"/>
<rect x="143.1" y="278.2" width="7.9" height="7.9" fill="#fff"/>
<rect x="150.1" y="278.2" width="7.9" height="7.9" fill="#fff"/>
<rect x="143.1" y="285.2" width="7.9" height="7.9" fill="#fff"/>
<rect x="150.1" y="285.2" width="7.9" height="7.9" fill="#fff"/>
<rect x="143.1" y="292.2" width="7.9" height="7.9" fill="#fff"/>
<rect x="150.1" y="292.2" width="7.9" height="7.9" fill="#fff"/>
<rect class="g" x="144.2" y="279.4" width="5.6" height="5.6"/>
<rect class="g" x="151.2" y="279.4" width="5.6" height="5.6"/>
<rect class="g" x="144.2" y="286.4" width="5.6" height="5.6"/>
<rect class="g" x="151.2" y="286.4" width="5.6" height="5.6"/>
<rect class="g" x="144.2" y="293.4" width="5.6" height="5.6"/>
<rect class="g" x="151.2" y="293.4" width="5.6" height="5.6"/>
<rect x="126.3" y="338.8" width="7.9" height="7.9" fill="#fff"/>
<rect x="133.4" y="338.8" width="7.9" height="7.9" fill="#fff"/>
<rect x="140.5" y="338.8" width="7.9" height="7.9" fill="#fff"/>
<rect x="126.3" y="345.7" width="7.9" height="7.9" fill="#fff"/>
<rect x="133.4" y="345.7" width="7.9" height="7.9" fill="#fff"/>
<rect x="140.5" y="345.7" width="7.9" height="7.9" fill="#fff"/>
<rect x="126.3" y="352.7" width="7.9" height="7.9" fill="#fff"/>
<rect x="133.4" y="352.7" width="7.9" height="7.9" fill="#fff"/>
<rect x="140.5" y="352.7" width="7.9" height="7.9" fill="#fff"/>
<rect x="133.4" y="359.7" width="7.9" height="7.9" fill="#fff"/>
<rect x="140.5" y="359.7" width="7.9" height="7.9" fill="#fff"/>
<rect class="g" x="127.5" y="339.9" width="5.6" height="5.6"/>
<rect class="g" x="134.5" y="339.9" width="5.6" height="5.6"/>
<rect class="g" x="141.6" y="339.9" width="5.6" height="5.6"/>
<rect class="g" x="127.5" y="346.9" width="5.6" height="5.6"/>
<rect class="g" x="134.5" y="346.9" width="5.6" height="5.6"/>
<rect class="g" x="141.6" y="346.9" width="5.6" height="5.6"/>
<rect class="g" x="127.5" y="353.9" width="5.6" height="5.6"/>
<rect class="g" x="134.5" y="353.9" width="5.6" height="5.6"/>
<rect class="g" x="141.6" y="353.9" width="5.6" height="5.6"/>
<rect class="g" x="134.5" y="360.9" width="5.6" height="5.6"/>
<rect class="g" x="141.6" y="360.9" width="5.6" height="5.6"/>
<rect x="88.8" y="266.7" width="7.9" height="7.9" fill="#fff"/>
<rect x="95.9" y="266.7" width="7.9" height="7.9" fill="#fff"/>
<rect x="88.8" y="273.6" width="7.9" height="7.9" fill="#fff"/>
<rect x="95.9" y="273.6" width="7.9" height="7.9" fill="#fff"/>
<rect x="88.8" y="280.6" width="7.9" height="7.9" fill="#fff"/>
<rect x="95.9" y="280.6" width="7.9" height="7.9" fill="#fff"/>
<rect class="g" x="90" y="267.8" width="5.6" height="5.6"/>
<rect class="g" x="97" y="267.8" width="5.6" height="5.6"/>
<rect class="g" x="90" y="274.8" width="5.6" height="5.6"/>
<rect class="g" x="97" y="274.8" width="5.6" height="5.6"/>
<rect class="g" x="90" y="281.8" width="5.6" height="5.6"/>
<rect class="g" x="97" y="281.8" width="5.6" height="5.6"/>
<rect x="39.1" y="246.2" width="7.9" height="7.9" fill="#fff"/>
<rect x="46.2" y="246.2" width="7.9" height="7.9" fill="#fff"/>
<rect x="53.2" y="246.2" width="7.9" height="7.9" fill="#fff"/>
<rect x="39.1" y="253.1" width="7.9" height="7.9" fill="#fff"/>
<rect x="46.2" y="253.1" width="7.9" height="7.9" fill="#fff"/>
<rect x="53.2" y="253.1" width="7.9" height="7.9" fill="#fff"/>
<rect x="39.1" y="260.1" width="7.9" height="7.9" fill="#fff"/>
<rect x="46.2" y="260.1" width="7.9" height="7.9" fill="#fff"/>
<rect x="53.2" y="260.1" width="7.9" height="7.9" fill="#fff"/>
<rect x="39.1" y="267.1" width="7.9" height="7.9" fill="#fff"/>
<rect x="46.2" y="267.1" width="7.9" height="7.9" fill="#fff"/>
<rect x="53.2" y="267.1" width="7.9" height="7.9" fill="#fff"/>
<rect x="39.1" y="274.1" width="7.9" height="7.9" fill="#fff"/>
<rect x="46.2" y="274.1" width="7.9" height="7.9" fill="#fff"/>
<rect x="53.2" y="274.1" width="7.9" height="7.9" fill="#fff"/>
<rect x="39.1" y="281.1" width="7.9" height="7.9" fill="#fff"/>
<rect x="46.2" y="281.1" width="7.9" height="7.9" fill="#fff"/>
<rect x="53.2" y="281.1" width="7.9" height="7.9" fill="#fff"/>
<rect x="39.1" y="288.1" width="7.9" height="7.9" fill="#fff"/>
<rect x="46.2" y="288.1" width="7.9" height="7.9" fill="#fff"/>
<rect x="53.2" y="288.1" width="7.9" height="7.9" fill="#fff"/>
<rect x="39.1" y="295.1" width="7.9" height="7.9" fill="#fff"/>
<rect x="46.2" y="295.1" width="7.9" height="7.9" fill="#fff"/>
<rect x="53.2" y="295.1" width="7.9" height="7.9" fill="#fff"/>
<rect x="60.3" y="295.1" width="7.9" height="7.9" fill="#fff"/>
<rect x="46.2" y="302.1" width="7.9" height="7.9" fill="#fff"/>
<rect x="53.2" y="302.1" width="7.9" height="7.9" fill="#fff"/>
<rect x="60.3" y="302.1" width="7.9" height="7.9" fill="#fff"/>
<rect x="67.3" y="302.1" width="7.9" height="7.9" fill="#fff"/>
<rect x="46.2" y="309.1" width="7.9" height="7.9" fill="#fff"/>
<rect x="53.2" y="309.1" width="7.9" height="7.9" fill="#fff"/>
<rect x="60.3" y="309.1" width="7.9" height="7.9" fill="#fff"/>
<rect x="67.3" y="309.1" width="7.9" height="7.9" fill="#fff"/>
<rect x="53.2" y="316.1" width="7.9" height="7.9" fill="#fff"/>
<rect x="60.3" y="316.1" width="7.9" height="7.9" fill="#fff"/>
<rect x="67.3" y="316.1" width="7.9" height="7.9" fill="#fff"/>
<rect x="74.4" y="316.1" width="7.9" height="7.9" fill="#fff"/>
<rect x="53.2" y="323" width="7.9" height="7.9" fill="#fff"/>
<rect x="60.3" y="323" width="7.9" height="7.9" fill="#fff"/>
<rect x="67.3" y="323" width="7.9" height="7.9" fill="#fff"/>
<rect x="74.4" y="323" width="7.9" height="7.9" fill="#fff"/>
<rect x="81.5" y="323" width="7.9" height="7.9" fill="#fff"/>
<rect x="60.3" y="330" width="7.9" height="7.9" fill="#fff"/>
<rect x="67.3" y="330" width="7.9" height="7.9" fill="#fff"/>
<rect x="74.4" y="330" width="7.9" height="7.9" fill="#fff"/>
<rect x="81.5" y="330" width="7.9" height="7.9" fill="#fff"/>
<rect x="88.5" y="330" width="7.9" height="7.9" fill="#fff"/>
<rect x="67.3" y="337" width="7.9" height="7.9" fill="#fff"/>
<rect x="74.4" y="337" width="7.9" height="7.9" fill="#fff"/>
<rect x="81.5" y="337" width="7.9" height="7.9" fill="#fff"/>
<rect x="88.5" y="337" width="7.9" height="7.9" fill="#fff"/>
<rect x="74.4" y="344" width="7.9" height="7.9" fill="#fff"/>
<rect x="81.5" y="344" width="7.9" height="7.9" fill="#fff"/>
<rect x="88.5" y="344" width="7.9" height="7.9" fill="#fff"/>
<rect class="g" x="40.3" y="247.3" width="5.6" height="5.6"/>
<rect class="g" x="47.4" y="247.3" width="5.6" height="5.6"/>
<rect class="g" x="54.4" y="247.3" width="5.6" height="5.6"/>
<rect class="g" x="40.3" y="254.3" width="5.6" height="5.6"/>
<rect class="g" x="47.4" y="254.3" width="5.6" height="5.6"/>
<rect class="g" x="54.4" y="254.3" width="5.6" height="5.6"/>
<rect class="g" x="40.3" y="261.3" width="5.6" height="5.6"/>
<rect class="g" x="47.4" y="261.3" width="5.6" height="5.6"/>
<rect class="g" x="54.4" y="261.3" width="5.6" height="5.6"/>
<rect class="g" x="40.3" y="268.3" width="5.6" height="5.6"/>
<rect class="g" x="47.4" y="268.3" width="5.6" height="5.6"/>
<rect class="g" x="54.4" y="268.3" width="5.6" height="5.6"/>
<rect class="g" x="40.3" y="275.3" width="5.6" height="5.6"/>
<rect class="g" x="47.4" y="275.3" width="5.6" height="5.6"/>
<rect class="g" x="54.4" y="275.3" width="5.6" height="5.6"/>
<rect class="g" x="40.3" y="282.2" width="5.6" height="5.6"/>
<rect class="g" x="47.4" y="282.2" width="5.6" height="5.6"/>
<rect class="g" x="54.4" y="282.2" width="5.6" height="5.6"/>
<rect class="g" x="40.3" y="289.2" width="5.6" height="5.6"/>
<rect class="g" x="47.4" y="289.2" width="5.6" height="5.6"/>
<rect class="g" x="54.4" y="289.2" width="5.6" height="5.6"/>
<rect class="g" x="40.3" y="296.2" width="5.6" height="5.6"/>
<rect class="g" x="47.4" y="296.2" width="5.6" height="5.6"/>
<rect class="g" x="54.4" y="296.2" width="5.6" height="5.6"/>
<rect class="g" x="61.5" y="296.2" width="5.6" height="5.6"/>
<rect class="g" x="47.4" y="303.2" width="5.6" height="5.6"/>
<rect class="g" x="54.4" y="303.2" width="5.6" height="5.6"/>
<rect class="g" x="61.5" y="303.2" width="5.6" height="5.6"/>
<rect class="g" x="68.5" y="303.2" width="5.6" height="5.6"/>
<rect class="g" x="47.4" y="310.2" width="5.6" height="5.6"/>
<rect class="g" x="54.4" y="310.2" width="5.6" height="5.6"/>
<rect class="g" x="61.5" y="310.2" width="5.6" height="5.6"/>
<rect class="g" x="68.5" y="310.2" width="5.6" height="5.6"/>
<rect class="g" x="54.4" y="317.2" width="5.6" height="5.6"/>
<rect class="g" x="61.5" y="317.2" width="5.6" height="5.6"/>
<rect class="g" x="68.5" y="317.2" width="5.6" height="5.6"/>
<rect class="g" x="75.5" y="317.2" width="5.6" height="5.6"/>
<rect class="g" x="54.4" y="324.2" width="5.6" height="5.6"/>
<rect class="g" x="61.5" y="324.2" width="5.6" height="5.6"/>
<rect class="g" x="68.5" y="324.2" width="5.6" height="5.6"/>
<rect class="g" x="75.5" y="324.2" width="5.6" height="5.6"/>
<rect class="g" x="82.6" y="324.2" width="5.6" height="5.6"/>
<rect class="g" x="61.5" y="331.2" width="5.6" height="5.6"/>
<rect class="g" x="68.5" y="331.2" width="5.6" height="5.6"/>
<rect class="g" x="75.5" y="331.2" width="5.6" height="5.6"/>
<rect class="g" x="82.6" y="331.2" width="5.6" height="5.6"/>
<rect class="g" x="89.7" y="331.2" width="5.6" height="5.6"/>
<rect class="g" x="68.5" y="338.2" width="5.6" height="5.6"/>
<rect class="g" x="75.5" y="338.2" width="5.6" height="5.6"/>
<rect class="g" x="82.6" y="338.2" width="5.6" height="5.6"/>
<rect class="g" x="89.7" y="338.2" width="5.6" height="5.6"/>
<rect class="g" x="75.5" y="345.2" width="5.6" height="5.6"/>
<rect class="g" x="82.6" y="345.2" width="5.6" height="5.6"/>
<rect class="g" x="89.7" y="345.2" width="5.6" height="5.6"/>
<rect x="68.2" y="432.2" width="7.9" height="7.9" fill="#fff"/>
<rect x="75.3" y="432.2" width="7.9" height="7.9" fill="#fff"/>
<rect x="82.3" y="432.2" width="7.9" height="7.9" fill="#fff"/>
<rect class="g" x="69.4" y="433.3" width="5.6" height="5.6"/>
<rect class="g" x="76.5" y="433.3" width="5.6" height="5.6"/>
<rect class="g" x="83.5" y="433.3" width="5.6" height="5.6"/>
<rect x="176.8" y="466.2" width="7.9" height="7.9" fill="#fff"/>
<rect x="183.8" y="466.2" width="7.9" height="7.9" fill="#fff"/>
<rect x="176.8" y="473.2" width="7.9" height="7.9" fill="#fff"/>
<rect x="183.8" y="473.2" width="7.9" height="7.9" fill="#fff"/>
<rect class="g" x="177.9" y="467.4" width="5.6" height="5.6"/>
<rect class="g" x="184.9" y="467.4" width="5.6" height="5.6"/>
<rect class="g" x="177.9" y="474.4" width="5.6" height="5.6"/>
<rect class="g" x="184.9" y="474.4" width="5.6" height="5.6"/>
<rect x="316.2" y="196.5" width="7.9" height="7.9" fill="#fff"/>
<rect x="323.2" y="196.5" width="7.9" height="7.9" fill="#fff"/>
<rect x="330.3" y="196.5" width="7.9" height="7.9" fill="#fff"/>
<rect x="316.2" y="203.4" width="7.9" height="7.9" fill="#fff"/>
<rect x="323.2" y="203.4" width="7.9" height="7.9" fill="#fff"/>
<rect x="316.2" y="210.4" width="7.9" height="7.9" fill="#fff"/>
<rect x="323.2" y="210.4" width="7.9" height="7.9" fill="#fff"/>
<rect x="316.2" y="217.4" width="7.9" height="7.9" fill="#fff"/>
<rect x="323.2" y="217.4" width="7.9" height="7.9" fill="#fff"/>
<rect x="330.3" y="217.4" width="7.9" height="7.9" fill="#fff"/>
<rect class="g" x="317.3" y="197.6" width="5.6" height="5.6"/>
<rect class="g" x="324.4" y="197.6" width="5.6" height="5.6"/>
<rect class="g" x="331.4" y="197.6" width="5.6" height="5.6"/>
<rect class="g" x="317.3" y="204.6" width="5.6" height="5.6"/>
<rect class="g" x="324.4" y="204.6" width="5.6" height="5.6"/>
<rect class="g" x="317.3" y="211.6" width="5.6" height="5.6"/>
<rect class="g" x="324.4" y="211.6" width="5.6" height="5.6"/>
<rect class="g" x="317.3" y="218.6" width="5.6" height="5.6"/>
<rect class="g" x="324.4" y="218.6" width="5.6" height="5.6"/>
<rect class="g" x="331.4" y="218.6" width="5.6" height="5.6"/>
<rect x="329.4" y="255.6" width="7.9" height="7.9" fill="#fff"/>
<rect x="336.4" y="255.6" width="7.9" height="7.9" fill="#fff"/>
<rect x="343.5" y="255.6" width="7.9" height="7.9" fill="#fff"/>
<rect x="329.4" y="262.5" width="7.9" height="7.9" fill="#fff"/>
<rect x="336.4" y="262.5" width="7.9" height="7.9" fill="#fff"/>
<rect x="343.5" y="262.5" width="7.9" height="7.9" fill="#fff"/>
<rect class="g" x="330.5" y="256.7" width="5.6" height="5.6"/>
<rect class="g" x="337.6" y="256.7" width="5.6" height="5.6"/>
<rect class="g" x="344.6" y="256.7" width="5.6" height="5.6"/>
<rect class="g" x="330.5" y="263.7" width="5.6" height="5.6"/>
<rect class="g" x="337.6" y="263.7" width="5.6" height="5.6"/>
<rect class="g" x="344.6" y="263.7" width="5.6" height="5.6"/>
<rect x="337.9" y="302.4" width="7.9" height="7.9" fill="#fdf3f5"/>
<rect x="345" y="302.4" width="7.9" height="7.9" fill="#fdf3f5"/>
<rect x="352.1" y="302.4" width="7.9" height="7.9" fill="#fdf3f5"/>
<rect x="337.9" y="309.3" width="7.9" height="7.9" fill="#fdf3f5"/>
<rect x="345" y="309.3" width="7.9" height="7.9" fill="#fdf3f5"/>
<rect x="352.1" y="309.3" width="7.9" height="7.9" fill="#fdf3f5"/>
<rect x="337.9" y="316.3" width="7.9" height="7.9" fill="#fdf3f5"/>
<rect x="345" y="316.3" width="7.9" height="7.9" fill="#fdf3f5"/>
<rect x="352.1" y="316.3" width="7.9" height="7.9" fill="#fdf3f5"/>
<rect x="359.1" y="316.3" width="7.9" height="7.9" fill="#fdf3f5"/>
<rect class="lr" x="339" y="303.4" width="5.7" height="5.7"/>
<rect class="lr" x="346.1" y="303.4" width="5.7" height="5.7"/>
<rect class="lr" x="353.1" y="303.4" width="5.7" height="5.7"/>
<rect class="lr" x="339" y="310.4" width="5.7" height="5.7"/>
<rect class="lr" x="346.1" y="310.4" width="5.7" height="5.7"/>
<rect class="lr" x="353.1" y="310.4" width="5.7" height="5.7"/>
<rect class="lr" x="339" y="317.4" width="5.7" height="5.7"/>
<rect class="lr" x="346.1" y="317.4" width="5.7" height="5.7"/>
<rect class="lr" x="353.1" y="317.4" width="5.7" height="5.7"/>
<rect class="lr" x="360.2" y="317.4" width="5.7" height="5.7"/>
<rect x="344.9" y="349.8" width="7.9" height="7.9" fill="#fbdbe3"/>
<rect x="352" y="349.8" width="7.9" height="7.9" fill="#fbdbe3"/>
<rect x="344.9" y="356.7" width="7.9" height="7.9" fill="#fbdbe3"/>
<rect x="352" y="356.7" width="7.9" height="7.9" fill="#fbdbe3"/>
<rect x="344.9" y="363.7" width="7.9" height="7.9" fill="#fbdbe3"/>
<rect x="352" y="363.7" width="7.9" height="7.9" fill="#fbdbe3"/>
<rect class="dr" x="346.1" y="350.9" width="5.5" height="5.5"/>
<rect class="dr" x="353.2" y="350.9" width="5.5" height="5.5"/>
<rect class="dr" x="346.1" y="357.9" width="5.5" height="5.5"/>
<rect class="dr" x="353.2" y="357.9" width="5.5" height="5.5"/>
<rect class="dr" x="346.1" y="364.9" width="5.5" height="5.5"/>
<rect class="dr" x="353.2" y="364.9" width="5.5" height="5.5"/>
<rect x="345.4" y="400.4" width="7.9" height="7.9" fill="#fff"/>
<rect x="352.4" y="400.4" width="7.9" height="7.9" fill="#fff"/>
<rect x="345.4" y="407.3" width="7.9" height="7.9" fill="#fff"/>
<rect x="352.4" y="407.3" width="7.9" height="7.9" fill="#fff"/>
<rect x="345.4" y="414.3" width="7.9" height="7.9" fill="#fff"/>
<rect x="352.4" y="414.3" width="7.9" height="7.9" fill="#fff"/>
<rect x="359.5" y="414.3" width="7.9" height="7.9" fill="#fff"/>
<rect x="366.5" y="414.3" width="7.9" height="7.9" fill="#fff"/>
<rect class="g" x="346.5" y="401.5" width="5.6" height="5.6"/>
<rect class="g" x="353.6" y="401.5" width="5.6" height="5.6"/>
<rect class="g" x="346.5" y="408.5" width="5.6" height="5.6"/>
<rect class="g" x="353.6" y="408.5" width="5.6" height="5.6"/>
<rect class="g" x="346.5" y="415.5" width="5.6" height="5.6"/>
<rect class="g" x="353.6" y="415.5" width="5.6" height="5.6"/>
<rect class="g" x="360.6" y="415.5" width="5.6" height="5.6"/>
<rect class="g" x="367.6" y="415.5" width="5.6" height="5.6"/>
<rect x="363.2" y="215.1" width="7.9" height="7.9" fill="#fff"/>
<rect x="370.3" y="215.1" width="7.9" height="7.9" fill="#fff"/>
<rect x="377.4" y="215.1" width="7.9" height="7.9" fill="#fff"/>
<rect x="363.2" y="222" width="7.9" height="7.9" fill="#fff"/>
<rect x="370.3" y="222" width="7.9" height="7.9" fill="#fff"/>
<rect x="377.4" y="222" width="7.9" height="7.9" fill="#fff"/>
<rect x="370.3" y="229" width="7.9" height="7.9" fill="#fff"/>
<rect x="377.4" y="229" width="7.9" height="7.9" fill="#fff"/>
<rect x="370.3" y="236" width="7.9" height="7.9" fill="#fff"/>
<rect x="377.4" y="236" width="7.9" height="7.9" fill="#fff"/>
<rect class="g" x="364.4" y="216.2" width="5.6" height="5.6"/>
<rect class="g" x="371.4" y="216.2" width="5.6" height="5.6"/>
<rect class="g" x="378.5" y="216.2" width="5.6" height="5.6"/>
<rect class="g" x="364.4" y="223.2" width="5.6" height="5.6"/>
<rect class="g" x="371.4" y="223.2" width="5.6" height="5.6"/>
<rect class="g" x="378.5" y="223.2" width="5.6" height="5.6"/>
<rect class="g" x="371.4" y="230.2" width="5.6" height="5.6"/>
<rect class="g" x="378.5" y="230.2" width="5.6" height="5.6"/>
<rect class="g" x="371.4" y="237.2" width="5.6" height="5.6"/>
<rect class="g" x="378.5" y="237.2" width="5.6" height="5.6"/>
<rect x="375.2" y="267.7" width="7.9" height="7.9" fill="#eef5fc"/>
<rect x="382.3" y="267.7" width="7.9" height="7.9" fill="#eef5fc"/>
<rect x="389.3" y="267.7" width="7.9" height="7.9" fill="#eef5fc"/>
<rect x="368.2" y="274.6" width="7.9" height="7.9" fill="#eef5fc"/>
<rect x="375.2" y="274.6" width="7.9" height="7.9" fill="#eef5fc"/>
<rect x="382.3" y="274.6" width="7.9" height="7.9" fill="#eef5fc"/>
<rect x="389.3" y="274.6" width="7.9" height="7.9" fill="#eef5fc"/>
<rect x="368.2" y="281.6" width="7.9" height="7.9" fill="#eef5fc"/>
<rect x="375.2" y="281.6" width="7.9" height="7.9" fill="#eef5fc"/>
<rect x="382.3" y="281.6" width="7.9" height="7.9" fill="#eef5fc"/>
<rect x="389.3" y="281.6" width="7.9" height="7.9" fill="#eef5fc"/>
<rect x="375.2" y="288.6" width="7.9" height="7.9" fill="#eef5fc"/>
<rect x="382.3" y="288.6" width="7.9" height="7.9" fill="#eef5fc"/>
<rect x="389.3" y="288.6" width="7.9" height="7.9" fill="#eef5fc"/>
<rect x="375.2" y="295.6" width="7.9" height="7.9" fill="#eef5fc"/>
<rect x="382.3" y="295.6" width="7.9" height="7.9" fill="#eef5fc"/>
<rect x="389.3" y="295.6" width="7.9" height="7.9" fill="#eef5fc"/>
<rect x="382.3" y="302.6" width="7.9" height="7.9" fill="#eef5fc"/>
<rect x="389.3" y="302.6" width="7.9" height="7.9" fill="#eef5fc"/>
<rect class="lb" x="376.3" y="268.8" width="5.7" height="5.7"/>
<rect class="lb" x="383.4" y="268.8" width="5.7" height="5.7"/>
<rect class="lb" x="390.4" y="268.8" width="5.7" height="5.7"/>
<rect class="lb" x="369.2" y="275.7" width="5.7" height="5.7"/>
<rect class="lb" x="376.3" y="275.7" width="5.7" height="5.7"/>
<rect class="lb" x="383.4" y="275.7" width="5.7" height="5.7"/>
<rect class="lb" x="390.4" y="275.7" width="5.7" height="5.7"/>
<rect class="lb" x="369.2" y="282.7" width="5.7" height="5.7"/>
<rect class="lb" x="376.3" y="282.7" width="5.7" height="5.7"/>
<rect class="lb" x="383.4" y="282.7" width="5.7" height="5.7"/>
<rect class="lb" x="390.4" y="282.7" width="5.7" height="5.7"/>
<rect class="lb" x="376.3" y="289.7" width="5.7" height="5.7"/>
<rect class="lb" x="383.4" y="289.7" width="5.7" height="5.7"/>
<rect class="lb" x="390.4" y="289.7" width="5.7" height="5.7"/>
<rect class="lb" x="376.3" y="296.7" width="5.7" height="5.7"/>
<rect class="lb" x="383.4" y="296.7" width="5.7" height="5.7"/>
<rect class="lb" x="390.4" y="296.7" width="5.7" height="5.7"/>
<rect class="lb" x="383.4" y="303.7" width="5.7" height="5.7"/>
<rect class="lb" x="390.4" y="303.7" width="5.7" height="5.7"/>
<rect x="407.4" y="267.7" width="7.9" height="7.9" fill="#fbdbe3"/>
<rect x="414.5" y="267.7" width="7.9" height="7.9" fill="#fbdbe3"/>
<rect x="407.4" y="274.6" width="7.9" height="7.9" fill="#fbdbe3"/>
<rect x="414.5" y="274.6" width="7.9" height="7.9" fill="#fbdbe3"/>
<rect x="407.4" y="281.6" width="7.9" height="7.9" fill="#fbdbe3"/>
<rect x="414.5" y="281.6" width="7.9" height="7.9" fill="#fbdbe3"/>
<rect x="407.4" y="288.6" width="7.9" height="7.9" fill="#fbdbe3"/>
<rect x="414.5" y="288.6" width="7.9" height="7.9" fill="#fbdbe3"/>
<rect x="407.4" y="295.6" width="7.9" height="7.9" fill="#fbdbe3"/>
<rect x="414.5" y="295.6" width="7.9" height="7.9" fill="#fbdbe3"/>
<rect x="407.4" y="302.6" width="7.9" height="7.9" fill="#fbdbe3"/>
<rect class="dr" x="408.6" y="268.9" width="5.5" height="5.5"/>
<rect class="dr" x="415.7" y="268.9" width="5.5" height="5.5"/>
<rect class="dr" x="408.6" y="275.8" width="5.5" height="5.5"/>
<rect class="dr" x="415.7" y="275.8" width="5.5" height="5.5"/>
<rect class="dr" x="408.6" y="282.8" width="5.5" height="5.5"/>
<rect class="dr" x="415.7" y="282.8" width="5.5" height="5.5"/>
<rect class="dr" x="408.6" y="289.8" width="5.5" height="5.5"/>
<rect class="dr" x="415.7" y="289.8" width="5.5" height="5.5"/>
<rect class="dr" x="408.6" y="296.8" width="5.5" height="5.5"/>
<rect class="dr" x="415.7" y="296.8" width="5.5" height="5.5"/>
<rect class="dr" x="408.6" y="303.8" width="5.5" height="5.5"/>
<rect x="412.2" y="223.1" width="7.9" height="7.9" fill="#eef5fc"/>
<rect x="419.3" y="223.1" width="7.9" height="7.9" fill="#eef5fc"/>
<rect x="426.4" y="223.1" width="7.9" height="7.9" fill="#eef5fc"/>
<rect x="412.2" y="230" width="7.9" height="7.9" fill="#eef5fc"/>
<rect x="419.3" y="230" width="7.9" height="7.9" fill="#eef5fc"/>
<rect x="426.4" y="230" width="7.9" height="7.9" fill="#eef5fc"/>
<rect x="433.4" y="230" width="7.9" height="7.9" fill="#eef5fc"/>
<rect x="412.2" y="237" width="7.9" height="7.9" fill="#eef5fc"/>
<rect x="419.3" y="237" width="7.9" height="7.9" fill="#eef5fc"/>
<rect x="426.4" y="237" width="7.9" height="7.9" fill="#eef5fc"/>
<rect x="433.4" y="237" width="7.9" height="7.9" fill="#eef5fc"/>
<rect x="412.2" y="244" width="7.9" height="7.9" fill="#eef5fc"/>
<rect x="419.3" y="244" width="7.9" height="7.9" fill="#eef5fc"/>
<rect x="426.4" y="244" width="7.9" height="7.9" fill="#eef5fc"/>
<rect x="433.4" y="244" width="7.9" height="7.9" fill="#eef5fc"/>
<rect class="lb" x="413.3" y="224.2" width="5.7" height="5.7"/>
<rect class="lb" x="420.4" y="224.2" width="5.7" height="5.7"/>
<rect class="lb" x="427.4" y="224.2" width="5.7" height="5.7"/>
<rect class="lb" x="413.3" y="231.1" width="5.7" height="5.7"/>
<rect class="lb" x="420.4" y="231.1" width="5.7" height="5.7"/>
<rect class="lb" x="427.4" y="231.1" width="5.7" height="5.7"/>
<rect class="lb" x="434.5" y="231.1" width="5.7" height="5.7"/>
<rect class="lb" x="413.3" y="238.1" width="5.7" height="5.7"/>
<rect class="lb" x="420.4" y="238.1" width="5.7" height="5.7"/>
<rect class="lb" x="427.4" y="238.1" width="5.7" height="5.7"/>
<rect class="lb" x="434.5" y="238.1" width="5.7" height="5.7"/>
<rect class="lb" x="413.3" y="245.1" width="5.7" height="5.7"/>
<rect class="lb" x="420.4" y="245.1" width="5.7" height="5.7"/>
<rect class="lb" x="427.4" y="245.1" width="5.7" height="5.7"/>
<rect class="lb" x="434.5" y="245.1" width="5.7" height="5.7"/>
<rect x="435.2" y="261.1" width="7.9" height="7.9" fill="#fdf3f5"/>
<rect x="456.3" y="261.1" width="7.9" height="7.9" fill="#fdf3f5"/>
<rect x="435.2" y="268" width="7.9" height="7.9" fill="#fdf3f5"/>
<rect x="442.2" y="268" width="7.9" height="7.9" fill="#fdf3f5"/>
<rect x="449.3" y="268" width="7.9" height="7.9" fill="#fdf3f5"/>
<rect x="456.3" y="268" width="7.9" height="7.9" fill="#fdf3f5"/>
<rect x="435.2" y="275" width="7.9" height="7.9" fill="#fdf3f5"/>
<rect x="442.2" y="275" width="7.9" height="7.9" fill="#fdf3f5"/>
<rect x="449.3" y="275" width="7.9" height="7.9" fill="#fdf3f5"/>
<rect x="456.3" y="275" width="7.9" height="7.9" fill="#fdf3f5"/>
<rect x="435.2" y="282" width="7.9" height="7.9" fill="#fdf3f5"/>
<rect x="442.2" y="282" width="7.9" height="7.9" fill="#fdf3f5"/>
<rect x="449.3" y="282" width="7.9" height="7.9" fill="#fdf3f5"/>
<rect x="456.3" y="282" width="7.9" height="7.9" fill="#fdf3f5"/>
<rect x="435.2" y="289" width="7.9" height="7.9" fill="#fdf3f5"/>
<rect x="442.2" y="289" width="7.9" height="7.9" fill="#fdf3f5"/>
<rect x="449.3" y="289" width="7.9" height="7.9" fill="#fdf3f5"/>
<rect class="lr" x="436.2" y="262.1" width="5.7" height="5.7"/>
<rect class="lr" x="457.4" y="262.1" width="5.7" height="5.7"/>
<rect class="lr" x="436.2" y="269.1" width="5.7" height="5.7"/>
<rect class="lr" x="443.3" y="269.1" width="5.7" height="5.7"/>
<rect class="lr" x="450.4" y="269.1" width="5.7" height="5.7"/>
<rect class="lr" x="457.4" y="269.1" width="5.7" height="5.7"/>
<rect class="lr" x="436.2" y="276.1" width="5.7" height="5.7"/>
<rect class="lr" x="443.3" y="276.1" width="5.7" height="5.7"/>
<rect class="lr" x="450.4" y="276.1" width="5.7" height="5.7"/>
<rect class="lr" x="457.4" y="276.1" width="5.7" height="5.7"/>
<rect class="lr" x="436.2" y="283.1" width="5.7" height="5.7"/>
<rect class="lr" x="443.3" y="283.1" width="5.7" height="5.7"/>
<rect class="lr" x="450.4" y="283.1" width="5.7" height="5.7"/>
<rect class="lr" x="457.4" y="283.1" width="5.7" height="5.7"/>
<rect class="lr" x="436.2" y="290.1" width="5.7" height="5.7"/>
<rect class="lr" x="443.3" y="290.1" width="5.7" height="5.7"/>
<rect class="lr" x="450.4" y="290.1" width="5.7" height="5.7"/>
<rect x="424.1" y="310.4" width="7.9" height="7.9" fill="#fbdbe3"/>
<rect x="431.1" y="310.4" width="7.9" height="7.9" fill="#fbdbe3"/>
<rect x="438.1" y="310.4" width="7.9" height="7.9" fill="#fbdbe3"/>
<rect x="409.9" y="317.4" width="7.9" height="7.9" fill="#fbdbe3"/>
<rect x="417" y="317.4" width="7.9" height="7.9" fill="#fbdbe3"/>
<rect x="424.1" y="317.4" width="7.9" height="7.9" fill="#fbdbe3"/>
<rect x="431.1" y="317.4" width="7.9" height="7.9" fill="#fbdbe3"/>
<rect x="438.1" y="317.4" width="7.9" height="7.9" fill="#fbdbe3"/>
<rect class="dr" x="425.2" y="311.6" width="5.5" height="5.5"/>
<rect class="dr" x="432.3" y="311.6" width="5.5" height="5.5"/>
<rect class="dr" x="439.3" y="311.6" width="5.5" height="5.5"/>
<rect class="dr" x="411.1" y="318.6" width="5.5" height="5.5"/>
<rect class="dr" x="418.2" y="318.6" width="5.5" height="5.5"/>
<rect class="dr" x="425.2" y="318.6" width="5.5" height="5.5"/>
<rect class="dr" x="432.3" y="318.6" width="5.5" height="5.5"/>
<rect class="dr" x="439.3" y="318.6" width="5.5" height="5.5"/>
<rect x="397.8" y="335.2" width="7.9" height="7.9" fill="#fbdbe3"/>
<rect x="404.8" y="335.2" width="7.9" height="7.9" fill="#fbdbe3"/>
<rect x="411.9" y="335.2" width="7.9" height="7.9" fill="#fbdbe3"/>
<rect x="418.9" y="335.2" width="7.9" height="7.9" fill="#fbdbe3"/>
<rect x="425.9" y="335.2" width="7.9" height="7.9" fill="#fbdbe3"/>
<rect x="433" y="335.2" width="7.9" height="7.9" fill="#fbdbe3"/>
<rect x="440.1" y="335.2" width="7.9" height="7.9" fill="#fbdbe3"/>
<rect x="397.8" y="342.1" width="7.9" height="7.9" fill="#fbdbe3"/>
<rect x="404.8" y="342.1" width="7.9" height="7.9" fill="#fbdbe3"/>
<rect x="411.9" y="342.1" width="7.9" height="7.9" fill="#fbdbe3"/>
<rect x="418.9" y="342.1" width="7.9" height="7.9" fill="#fbdbe3"/>
<rect class="dr" x="398.9" y="336.4" width="5.5" height="5.5"/>
<rect class="dr" x="406" y="336.4" width="5.5" height="5.5"/>
<rect class="dr" x="413.1" y="336.4" width="5.5" height="5.5"/>
<rect class="dr" x="420.1" y="336.4" width="5.5" height="5.5"/>
<rect class="dr" x="427.1" y="336.4" width="5.5" height="5.5"/>
<rect class="dr" x="434.2" y="336.4" width="5.5" height="5.5"/>
<rect class="dr" x="441.2" y="336.4" width="5.5" height="5.5"/>
<rect class="dr" x="398.9" y="343.3" width="5.5" height="5.5"/>
<rect class="dr" x="406" y="343.3" width="5.5" height="5.5"/>
<rect class="dr" x="413.1" y="343.3" width="5.5" height="5.5"/>
<rect class="dr" x="420.1" y="343.3" width="5.5" height="5.5"/>
<rect x="379.8" y="375.9" width="7.9" height="7.9" fill="#fbdbe3"/>
<rect x="386.8" y="375.9" width="7.9" height="7.9" fill="#fbdbe3"/>
<rect x="379.8" y="382.8" width="7.9" height="7.9" fill="#fbdbe3"/>
<rect x="386.8" y="382.8" width="7.9" height="7.9" fill="#fbdbe3"/>
<rect x="379.8" y="389.8" width="7.9" height="7.9" fill="#fbdbe3"/>
<rect x="386.8" y="389.8" width="7.9" height="7.9" fill="#fbdbe3"/>
<rect class="dr" x="380.9" y="377.1" width="5.5" height="5.5"/>
<rect class="dr" x="388" y="377.1" width="5.5" height="5.5"/>
<rect class="dr" x="380.9" y="384" width="5.5" height="5.5"/>
<rect class="dr" x="388" y="384" width="5.5" height="5.5"/>
<rect class="dr" x="380.9" y="391" width="5.5" height="5.5"/>
<rect class="dr" x="388" y="391" width="5.5" height="5.5"/>
<rect x="409.2" y="372.2" width="7.9" height="7.9" fill="#fbdbe3"/>
<rect x="416.2" y="372.2" width="7.9" height="7.9" fill="#fbdbe3"/>
<rect x="409.2" y="379.2" width="7.9" height="7.9" fill="#fbdbe3"/>
<rect x="416.2" y="379.2" width="7.9" height="7.9" fill="#fbdbe3"/>
<rect x="423.3" y="379.2" width="7.9" height="7.9" fill="#fbdbe3"/>
<rect x="409.2" y="386.2" width="7.9" height="7.9" fill="#fbdbe3"/>
<rect x="416.2" y="386.2" width="7.9" height="7.9" fill="#fbdbe3"/>
<rect x="423.3" y="386.2" width="7.9" height="7.9" fill="#fbdbe3"/>
<rect x="409.2" y="393.2" width="7.9" height="7.9" fill="#fbdbe3"/>
<rect class="dr" x="410.4" y="373.4" width="5.5" height="5.5"/>
<rect class="dr" x="417.4" y="373.4" width="5.5" height="5.5"/>
<rect class="dr" x="410.4" y="380.4" width="5.5" height="5.5"/>
<rect class="dr" x="417.4" y="380.4" width="5.5" height="5.5"/>
<rect class="dr" x="424.5" y="380.4" width="5.5" height="5.5"/>
<rect class="dr" x="410.4" y="387.4" width="5.5" height="5.5"/>
<rect class="dr" x="417.4" y="387.4" width="5.5" height="5.5"/>
<rect class="dr" x="424.5" y="387.4" width="5.5" height="5.5"/>
<rect class="dr" x="410.4" y="394.4" width="5.5" height="5.5"/>
<rect x="446.4" y="365.2" width="7.9" height="7.9" fill="#fdf3f5"/>
<rect x="453.4" y="365.2" width="7.9" height="7.9" fill="#fdf3f5"/>
<rect x="446.4" y="372.2" width="7.9" height="7.9" fill="#fdf3f5"/>
<rect x="453.4" y="372.2" width="7.9" height="7.9" fill="#fdf3f5"/>
<rect x="460.5" y="372.2" width="7.9" height="7.9" fill="#fdf3f5"/>
<rect x="446.4" y="379.2" width="7.9" height="7.9" fill="#fdf3f5"/>
<rect x="453.4" y="379.2" width="7.9" height="7.9" fill="#fdf3f5"/>
<rect x="460.5" y="379.2" width="7.9" height="7.9" fill="#fdf3f5"/>
<rect x="446.4" y="386.2" width="7.9" height="7.9" fill="#fdf3f5"/>
<rect x="453.4" y="386.2" width="7.9" height="7.9" fill="#fdf3f5"/>
<rect x="460.5" y="386.2" width="7.9" height="7.9" fill="#fdf3f5"/>
<rect x="467.5" y="386.2" width="7.9" height="7.9" fill="#fdf3f5"/>
<rect x="446.4" y="393.2" width="7.9" height="7.9" fill="#fdf3f5"/>
<rect x="453.4" y="393.2" width="7.9" height="7.9" fill="#fdf3f5"/>
<rect x="460.5" y="393.2" width="7.9" height="7.9" fill="#fdf3f5"/>
<rect x="467.5" y="393.2" width="7.9" height="7.9" fill="#fdf3f5"/>
<rect class="lr" x="447.4" y="366.3" width="5.7" height="5.7"/>
<rect class="lr" x="454.5" y="366.3" width="5.7" height="5.7"/>
<rect class="lr" x="447.4" y="373.3" width="5.7" height="5.7"/>
<rect class="lr" x="454.5" y="373.3" width="5.7" height="5.7"/>
<rect class="lr" x="461.6" y="373.3" width="5.7" height="5.7"/>
<rect class="lr" x="447.4" y="380.3" width="5.7" height="5.7"/>
<rect class="lr" x="454.5" y="380.3" width="5.7" height="5.7"/>
<rect class="lr" x="461.6" y="380.3" width="5.7" height="5.7"/>
<rect class="lr" x="447.4" y="387.3" width="5.7" height="5.7"/>
<rect class="lr" x="454.5" y="387.3" width="5.7" height="5.7"/>
<rect class="lr" x="461.6" y="387.3" width="5.7" height="5.7"/>
<rect class="lr" x="468.6" y="387.3" width="5.7" height="5.7"/>
<rect class="lr" x="447.4" y="394.3" width="5.7" height="5.7"/>
<rect class="lr" x="454.5" y="394.3" width="5.7" height="5.7"/>
<rect class="lr" x="461.6" y="394.3" width="5.7" height="5.7"/>
<rect class="lr" x="468.6" y="394.3" width="5.7" height="5.7"/>
<rect x="433.2" y="410.1" width="7.9" height="7.9" fill="#fbdbe3"/>
<rect x="440.3" y="410.1" width="7.9" height="7.9" fill="#fbdbe3"/>
<rect x="447.4" y="410.1" width="7.9" height="7.9" fill="#fbdbe3"/>
<rect x="454.4" y="410.1" width="7.9" height="7.9" fill="#fbdbe3"/>
<rect x="461.4" y="410.1" width="7.9" height="7.9" fill="#fbdbe3"/>
<rect x="468.5" y="410.1" width="7.9" height="7.9" fill="#fbdbe3"/>
<rect x="475.6" y="410.1" width="7.9" height="7.9" fill="#fbdbe3"/>
<rect x="468.5" y="417" width="7.9" height="7.9" fill="#fbdbe3"/>
<rect x="475.6" y="417" width="7.9" height="7.9" fill="#fbdbe3"/>
<rect x="482.6" y="417" width="7.9" height="7.9" fill="#fbdbe3"/>
<rect x="468.5" y="424" width="7.9" height="7.9" fill="#fbdbe3"/>
<rect x="475.6" y="424" width="7.9" height="7.9" fill="#fbdbe3"/>
<rect x="482.6" y="424" width="7.9" height="7.9" fill="#fbdbe3"/>
<rect x="475.6" y="431" width="7.9" height="7.9" fill="#fbdbe3"/>
<rect x="482.6" y="431" width="7.9" height="7.9" fill="#fbdbe3"/>
<rect x="489.6" y="431" width="7.9" height="7.9" fill="#fbdbe3"/>
<rect x="475.6" y="438" width="7.9" height="7.9" fill="#fbdbe3"/>
<rect x="482.6" y="438" width="7.9" height="7.9" fill="#fbdbe3"/>
<rect x="489.6" y="438" width="7.9" height="7.9" fill="#fbdbe3"/>
<rect x="475.6" y="445" width="7.9" height="7.9" fill="#fbdbe3"/>
<rect x="482.6" y="445" width="7.9" height="7.9" fill="#fbdbe3"/>
<rect x="489.6" y="445" width="7.9" height="7.9" fill="#fbdbe3"/>
<rect x="496.7" y="445" width="7.9" height="7.9" fill="#fbdbe3"/>
<rect x="482.6" y="452" width="7.9" height="7.9" fill="#fbdbe3"/>
<rect x="489.6" y="452" width="7.9" height="7.9" fill="#fbdbe3"/>
<rect x="496.7" y="452" width="7.9" height="7.9" fill="#fbdbe3"/>
<rect x="489.6" y="459" width="7.9" height="7.9" fill="#fbdbe3"/>
<rect x="496.7" y="459" width="7.9" height="7.9" fill="#fbdbe3"/>
<rect x="503.8" y="459" width="7.9" height="7.9" fill="#fbdbe3"/>
<rect x="496.7" y="466" width="7.9" height="7.9" fill="#fbdbe3"/>
<rect class="dr" x="434.4" y="411.2" width="5.5" height="5.5"/>
<rect class="dr" x="441.5" y="411.2" width="5.5" height="5.5"/>
<rect class="dr" x="448.6" y="411.2" width="5.5" height="5.5"/>
<rect class="dr" x="455.6" y="411.2" width="5.5" height="5.5"/>
<rect class="dr" x="462.6" y="411.2" width="5.5" height="5.5"/>
<rect class="dr" x="469.7" y="411.2" width="5.5" height="5.5"/>
<rect class="dr" x="476.8" y="411.2" width="5.5" height="5.5"/>
<rect class="dr" x="469.7" y="418.2" width="5.5" height="5.5"/>
<rect class="dr" x="476.8" y="418.2" width="5.5" height="5.5"/>
<rect class="dr" x="483.8" y="418.2" width="5.5" height="5.5"/>
<rect class="dr" x="469.7" y="425.2" width="5.5" height="5.5"/>
<rect class="dr" x="476.8" y="425.2" width="5.5" height="5.5"/>
<rect class="dr" x="483.8" y="425.2" width="5.5" height="5.5"/>
<rect class="dr" x="476.8" y="432.2" width="5.5" height="5.5"/>
<rect class="dr" x="483.8" y="432.2" width="5.5" height="5.5"/>
<rect class="dr" x="490.8" y="432.2" width="5.5" height="5.5"/>
<rect class="dr" x="476.8" y="439.2" width="5.5" height="5.5"/>
<rect class="dr" x="483.8" y="439.2" width="5.5" height="5.5"/>
<rect class="dr" x="490.8" y="439.2" width="5.5" height="5.5"/>
<rect class="dr" x="476.8" y="446.2" width="5.5" height="5.5"/>
<rect class="dr" x="483.8" y="446.2" width="5.5" height="5.5"/>
<rect class="dr" x="490.8" y="446.2" width="5.5" height="5.5"/>
<rect class="dr" x="497.9" y="446.2" width="5.5" height="5.5"/>
<rect class="dr" x="483.8" y="453.2" width="5.5" height="5.5"/>
<rect class="dr" x="490.8" y="453.2" width="5.5" height="5.5"/>
<rect class="dr" x="497.9" y="453.2" width="5.5" height="5.5"/>
<rect class="dr" x="490.8" y="460.2" width="5.5" height="5.5"/>
<rect class="dr" x="497.9" y="460.2" width="5.5" height="5.5"/>
<rect class="dr" x="504.9" y="460.2" width="5.5" height="5.5"/>
<rect class="dr" x="497.9" y="467.2" width="5.5" height="5.5"/>
<rect x="472.2" y="352.2" width="7.9" height="7.9" fill="#fbdbe3"/>
<rect x="479.3" y="352.2" width="7.9" height="7.9" fill="#fbdbe3"/>
<rect x="486.4" y="352.2" width="7.9" height="7.9" fill="#fbdbe3"/>
<rect x="493.4" y="352.2" width="7.9" height="7.9" fill="#fbdbe3"/>
<rect x="479.3" y="359.1" width="7.9" height="7.9" fill="#fbdbe3"/>
<rect x="486.4" y="359.1" width="7.9" height="7.9" fill="#fbdbe3"/>
<rect x="493.4" y="359.1" width="7.9" height="7.9" fill="#fbdbe3"/>
<rect x="479.3" y="366.1" width="7.9" height="7.9" fill="#fbdbe3"/>
<rect x="486.4" y="366.1" width="7.9" height="7.9" fill="#fbdbe3"/>
<rect class="dr" x="473.4" y="353.4" width="5.5" height="5.5"/>
<rect class="dr" x="480.5" y="353.4" width="5.5" height="5.5"/>
<rect class="dr" x="487.6" y="353.4" width="5.5" height="5.5"/>
<rect class="dr" x="494.6" y="353.4" width="5.5" height="5.5"/>
<rect class="dr" x="480.5" y="360.3" width="5.5" height="5.5"/>
<rect class="dr" x="487.6" y="360.3" width="5.5" height="5.5"/>
<rect class="dr" x="494.6" y="360.3" width="5.5" height="5.5"/>
<rect class="dr" x="480.5" y="367.3" width="5.5" height="5.5"/>
<rect class="dr" x="487.6" y="367.3" width="5.5" height="5.5"/>
<rect x="480.8" y="326.7" width="7.9" height="7.9" fill="#eef5fc"/>
<rect x="487.8" y="326.7" width="7.9" height="7.9" fill="#eef5fc"/>
<rect x="494.9" y="326.7" width="7.9" height="7.9" fill="#eef5fc"/>
<rect x="501.9" y="326.7" width="7.9" height="7.9" fill="#eef5fc"/>
<rect x="509" y="326.7" width="7.9" height="7.9" fill="#eef5fc"/>
<rect x="516" y="326.7" width="7.9" height="7.9" fill="#eef5fc"/>
<rect x="466.7" y="333.6" width="7.9" height="7.9" fill="#eef5fc"/>
<rect x="473.7" y="333.6" width="7.9" height="7.9" fill="#eef5fc"/>
<rect x="480.8" y="333.6" width="7.9" height="7.9" fill="#eef5fc"/>
<rect x="487.8" y="333.6" width="7.9" height="7.9" fill="#eef5fc"/>
<rect x="494.9" y="333.6" width="7.9" height="7.9" fill="#eef5fc"/>
<rect x="501.9" y="333.6" width="7.9" height="7.9" fill="#eef5fc"/>
<rect x="509" y="333.6" width="7.9" height="7.9" fill="#eef5fc"/>
<rect x="516" y="333.6" width="7.9" height="7.9" fill="#eef5fc"/>
<rect x="509" y="340.6" width="7.9" height="7.9" fill="#eef5fc"/>
<rect x="516" y="340.6" width="7.9" height="7.9" fill="#eef5fc"/>
<rect class="lb" x="481.9" y="327.8" width="5.7" height="5.7"/>
<rect class="lb" x="488.9" y="327.8" width="5.7" height="5.7"/>
<rect class="lb" x="495.9" y="327.8" width="5.7" height="5.7"/>
<rect class="lb" x="503" y="327.8" width="5.7" height="5.7"/>
<rect class="lb" x="510.1" y="327.8" width="5.7" height="5.7"/>
<rect class="lb" x="517.1" y="327.8" width="5.7" height="5.7"/>
<rect class="lb" x="467.8" y="334.7" width="5.7" height="5.7"/>
<rect class="lb" x="474.8" y="334.7" width="5.7" height="5.7"/>
<rect class="lb" x="481.9" y="334.7" width="5.7" height="5.7"/>
<rect class="lb" x="488.9" y="334.7" width="5.7" height="5.7"/>
<rect class="lb" x="495.9" y="334.7" width="5.7" height="5.7"/>
<rect class="lb" x="503" y="334.7" width="5.7" height="5.7"/>
<rect class="lb" x="510.1" y="334.7" width="5.7" height="5.7"/>
<rect class="lb" x="517.1" y="334.7" width="5.7" height="5.7"/>
<rect class="lb" x="510.1" y="341.7" width="5.7" height="5.7"/>
<rect class="lb" x="517.1" y="341.7" width="5.7" height="5.7"/>
<rect x="501.8" y="296.4" width="7.9" height="7.9" fill="#fdf3f5"/>
<rect x="508.9" y="296.4" width="7.9" height="7.9" fill="#fdf3f5"/>
<rect x="515.9" y="296.4" width="7.9" height="7.9" fill="#fdf3f5"/>
<rect x="494.8" y="303.3" width="7.9" height="7.9" fill="#fdf3f5"/>
<rect x="501.8" y="303.3" width="7.9" height="7.9" fill="#fdf3f5"/>
<rect x="508.9" y="303.3" width="7.9" height="7.9" fill="#fdf3f5"/>
<rect x="515.9" y="303.3" width="7.9" height="7.9" fill="#fdf3f5"/>
<rect x="480.7" y="310.3" width="7.9" height="7.9" fill="#fdf3f5"/>
<rect x="487.7" y="310.3" width="7.9" height="7.9" fill="#fdf3f5"/>
<rect x="494.8" y="310.3" width="7.9" height="7.9" fill="#fdf3f5"/>
<rect x="501.8" y="310.3" width="7.9" height="7.9" fill="#fdf3f5"/>
<rect x="508.9" y="310.3" width="7.9" height="7.9" fill="#fdf3f5"/>
<rect x="515.9" y="310.3" width="7.9" height="7.9" fill="#fdf3f5"/>
<rect class="lr" x="502.9" y="297.4" width="5.7" height="5.7"/>
<rect class="lr" x="509.9" y="297.4" width="5.7" height="5.7"/>
<rect class="lr" x="517" y="297.4" width="5.7" height="5.7"/>
<rect class="lr" x="495.9" y="304.4" width="5.7" height="5.7"/>
<rect class="lr" x="502.9" y="304.4" width="5.7" height="5.7"/>
<rect class="lr" x="509.9" y="304.4" width="5.7" height="5.7"/>
<rect class="lr" x="517" y="304.4" width="5.7" height="5.7"/>
<rect class="lr" x="481.8" y="311.4" width="5.7" height="5.7"/>
<rect class="lr" x="488.8" y="311.4" width="5.7" height="5.7"/>
<rect class="lr" x="495.9" y="311.4" width="5.7" height="5.7"/>
<rect class="lr" x="502.9" y="311.4" width="5.7" height="5.7"/>
<rect class="lr" x="509.9" y="311.4" width="5.7" height="5.7"/>
<rect class="lr" x="517" y="311.4" width="5.7" height="5.7"/>
<rect x="465.1" y="293.2" width="7.9" height="7.9" fill="#fbdbe3"/>
<rect x="472.1" y="293.2" width="7.9" height="7.9" fill="#fbdbe3"/>
<rect x="465.1" y="300.2" width="7.9" height="7.9" fill="#fbdbe3"/>
<rect x="472.1" y="300.2" width="7.9" height="7.9" fill="#fbdbe3"/>
<rect class="dr" x="466.2" y="294.4" width="5.5" height="5.5"/>
<rect class="dr" x="473.3" y="294.4" width="5.5" height="5.5"/>
<rect class="dr" x="466.2" y="301.4" width="5.5" height="5.5"/>
<rect class="dr" x="473.3" y="301.4" width="5.5" height="5.5"/>
<rect x="475.7" y="245.1" width="7.9" height="7.9" fill="#eef5fc"/>
<rect x="475.7" y="252" width="7.9" height="7.9" fill="#eef5fc"/>
<rect x="482.7" y="252" width="7.9" height="7.9" fill="#eef5fc"/>
<rect x="489.8" y="252" width="7.9" height="7.9" fill="#eef5fc"/>
<rect x="496.8" y="252" width="7.9" height="7.9" fill="#eef5fc"/>
<rect x="503.9" y="252" width="7.9" height="7.9" fill="#eef5fc"/>
<rect x="510.9" y="252" width="7.9" height="7.9" fill="#eef5fc"/>
<rect x="475.7" y="259" width="7.9" height="7.9" fill="#eef5fc"/>
<rect x="482.7" y="259" width="7.9" height="7.9" fill="#eef5fc"/>
<rect x="489.8" y="259" width="7.9" height="7.9" fill="#eef5fc"/>
<rect x="496.8" y="259" width="7.9" height="7.9" fill="#eef5fc"/>
<rect x="503.9" y="259" width="7.9" height="7.9" fill="#eef5fc"/>
<rect x="510.9" y="259" width="7.9" height="7.9" fill="#eef5fc"/>
<rect x="475.7" y="266" width="7.9" height="7.9" fill="#eef5fc"/>
<rect x="482.7" y="266" width="7.9" height="7.9" fill="#eef5fc"/>
<rect x="489.8" y="266" width="7.9" height="7.9" fill="#eef5fc"/>
<rect x="496.8" y="266" width="7.9" height="7.9" fill="#eef5fc"/>
<rect x="503.9" y="266" width="7.9" height="7.9" fill="#eef5fc"/>
<rect x="510.9" y="266" width="7.9" height="7.9" fill="#eef5fc"/>
<rect class="lb" x="476.8" y="246.2" width="5.7" height="5.7"/>
<rect class="lb" x="476.8" y="253.1" width="5.7" height="5.7"/>
<rect class="lb" x="483.8" y="253.1" width="5.7" height="5.7"/>
<rect class="lb" x="490.9" y="253.1" width="5.7" height="5.7"/>
<rect class="lb" x="497.9" y="253.1" width="5.7" height="5.7"/>
<rect class="lb" x="504.9" y="253.1" width="5.7" height="5.7"/>
<rect class="lb" x="512" y="253.1" width="5.7" height="5.7"/>
<rect class="lb" x="476.8" y="260.1" width="5.7" height="5.7"/>
<rect class="lb" x="483.8" y="260.1" width="5.7" height="5.7"/>
<rect class="lb" x="490.9" y="260.1" width="5.7" height="5.7"/>
<rect class="lb" x="497.9" y="260.1" width="5.7" height="5.7"/>
<rect class="lb" x="504.9" y="260.1" width="5.7" height="5.7"/>
<rect class="lb" x="512" y="260.1" width="5.7" height="5.7"/>
<rect class="lb" x="476.8" y="267.1" width="5.7" height="5.7"/>
<rect class="lb" x="483.8" y="267.1" width="5.7" height="5.7"/>
<rect class="lb" x="490.9" y="267.1" width="5.7" height="5.7"/>
<rect class="lb" x="497.9" y="267.1" width="5.7" height="5.7"/>
<rect class="lb" x="504.9" y="267.1" width="5.7" height="5.7"/>
<rect class="lb" x="512" y="267.1" width="5.7" height="5.7"/>
<rect x="483.6" y="277.6" width="7.9" height="7.9" fill="#c3e3fc"/>
<rect x="490.6" y="277.6" width="7.9" height="7.9" fill="#c3e3fc"/>
<rect x="497.7" y="277.6" width="7.9" height="7.9" fill="#c3e3fc"/>
<rect x="504.7" y="277.6" width="7.9" height="7.9" fill="#c3e3fc"/>
<rect x="511.8" y="277.6" width="7.9" height="7.9" fill="#c3e3fc"/>
<rect x="483.6" y="284.5" width="7.9" height="7.9" fill="#c3e3fc"/>
<rect x="490.6" y="284.5" width="7.9" height="7.9" fill="#c3e3fc"/>
<rect x="497.7" y="284.5" width="7.9" height="7.9" fill="#c3e3fc"/>
<rect x="504.7" y="284.5" width="7.9" height="7.9" fill="#c3e3fc"/>
<rect x="511.8" y="284.5" width="7.9" height="7.9" fill="#c3e3fc"/>
<rect class="db" x="484.8" y="278.8" width="5.5" height="5.5"/>
<rect class="db" x="491.8" y="278.8" width="5.5" height="5.5"/>
<rect class="db" x="498.9" y="278.8" width="5.5" height="5.5"/>
<rect class="db" x="505.9" y="278.8" width="5.5" height="5.5"/>
<rect class="db" x="513" y="278.8" width="5.5" height="5.5"/>
<rect class="db" x="484.8" y="285.7" width="5.5" height="5.5"/>
<rect class="db" x="491.8" y="285.7" width="5.5" height="5.5"/>
<rect class="db" x="498.9" y="285.7" width="5.5" height="5.5"/>
<rect class="db" x="505.9" y="285.7" width="5.5" height="5.5"/>
<rect class="db" x="513" y="285.7" width="5.5" height="5.5"/>
<rect x="541.2" y="280.2" width="7.9" height="7.9" fill="#eef5fc"/>
<rect x="548.3" y="280.2" width="7.9" height="7.9" fill="#eef5fc"/>
<rect x="555.4" y="280.2" width="7.9" height="7.9" fill="#eef5fc"/>
<rect class="lb" x="542.4" y="281.3" width="5.7" height="5.7"/>
<rect class="lb" x="549.4" y="281.3" width="5.7" height="5.7"/>
<rect class="lb" x="556.5" y="281.3" width="5.7" height="5.7"/>
<rect x="541.2" y="291.2" width="7.9" height="7.9" fill="#fff"/>
<rect x="548.3" y="291.2" width="7.9" height="7.9" fill="#fff"/>
<rect x="555.4" y="291.2" width="7.9" height="7.9" fill="#fff"/>
<rect class="g" x="542.4" y="292.4" width="5.6" height="5.6"/>
<rect class="g" x="549.5" y="292.4" width="5.6" height="5.6"/>
<rect class="g" x="556.5" y="292.4" width="5.6" height="5.6"/>
<rect x="526.8" y="253.7" width="7.9" height="7.9" fill="#c3e3fc"/>
<rect x="533.9" y="253.7" width="7.9" height="7.9" fill="#c3e3fc"/>
<rect x="540.9" y="253.7" width="7.9" height="7.9" fill="#c3e3fc"/>
<rect x="548" y="253.7" width="7.9" height="7.9" fill="#c3e3fc"/>
<rect x="526.8" y="260.6" width="7.9" height="7.9" fill="#c3e3fc"/>
<rect x="533.9" y="260.6" width="7.9" height="7.9" fill="#c3e3fc"/>
<rect x="540.9" y="260.6" width="7.9" height="7.9" fill="#c3e3fc"/>
<rect x="548" y="260.6" width="7.9" height="7.9" fill="#c3e3fc"/>
<rect x="555" y="260.6" width="7.9" height="7.9" fill="#c3e3fc"/>
<rect x="526.8" y="267.6" width="7.9" height="7.9" fill="#c3e3fc"/>
<rect x="533.9" y="267.6" width="7.9" height="7.9" fill="#c3e3fc"/>
<rect x="540.9" y="267.6" width="7.9" height="7.9" fill="#c3e3fc"/>
<rect x="548" y="267.6" width="7.9" height="7.9" fill="#c3e3fc"/>
<rect x="555" y="267.6" width="7.9" height="7.9" fill="#c3e3fc"/>
<rect class="db" x="528" y="254.8" width="5.5" height="5.5"/>
<rect class="db" x="535.1" y="254.8" width="5.5" height="5.5"/>
<rect class="db" x="542.1" y="254.8" width="5.5" height="5.5"/>
<rect class="db" x="549.2" y="254.8" width="5.5" height="5.5"/>
<rect class="db" x="528" y="261.8" width="5.5" height="5.5"/>
<rect class="db" x="535.1" y="261.8" width="5.5" height="5.5"/>
<rect class="db" x="542.1" y="261.8" width="5.5" height="5.5"/>
<rect class="db" x="549.2" y="261.8" width="5.5" height="5.5"/>
<rect class="db" x="556.2" y="261.8" width="5.5" height="5.5"/>
<rect class="db" x="528" y="268.8" width="5.5" height="5.5"/>
<rect class="db" x="535.1" y="268.8" width="5.5" height="5.5"/>
<rect class="db" x="542.1" y="268.8" width="5.5" height="5.5"/>
<rect class="db" x="549.2" y="268.8" width="5.5" height="5.5"/>
<rect class="db" x="556.2" y="268.8" width="5.5" height="5.5"/>
<rect x="505.6" y="201.7" width="7.9" height="7.9" fill="#fff"/>
<rect x="512.7" y="201.7" width="7.9" height="7.9" fill="#fff"/>
<rect x="519.7" y="201.7" width="7.9" height="7.9" fill="#fff"/>
<rect x="526.8" y="201.7" width="7.9" height="7.9" fill="#fff"/>
<rect x="505.6" y="208.6" width="7.9" height="7.9" fill="#fff"/>
<rect x="512.7" y="208.6" width="7.9" height="7.9" fill="#fff"/>
<rect x="519.7" y="208.6" width="7.9" height="7.9" fill="#fff"/>
<rect x="526.8" y="208.6" width="7.9" height="7.9" fill="#fff"/>
<rect x="505.6" y="215.6" width="7.9" height="7.9" fill="#fff"/>
<rect x="512.7" y="215.6" width="7.9" height="7.9" fill="#fff"/>
<rect x="519.7" y="215.6" width="7.9" height="7.9" fill="#fff"/>
<rect x="526.8" y="215.6" width="7.9" height="7.9" fill="#fff"/>
<rect x="484.5" y="222.6" width="7.9" height="7.9" fill="#fff"/>
<rect x="491.6" y="222.6" width="7.9" height="7.9" fill="#fff"/>
<rect x="498.6" y="222.6" width="7.9" height="7.9" fill="#fff"/>
<rect x="505.6" y="222.6" width="7.9" height="7.9" fill="#fff"/>
<rect x="512.7" y="222.6" width="7.9" height="7.9" fill="#fff"/>
<rect x="519.7" y="222.6" width="7.9" height="7.9" fill="#fff"/>
<rect x="526.8" y="222.6" width="7.9" height="7.9" fill="#fff"/>
<rect x="477.4" y="229.6" width="7.9" height="7.9" fill="#fff"/>
<rect x="484.5" y="229.6" width="7.9" height="7.9" fill="#fff"/>
<rect x="491.6" y="229.6" width="7.9" height="7.9" fill="#fff"/>
<rect x="498.6" y="229.6" width="7.9" height="7.9" fill="#fff"/>
<rect x="505.6" y="229.6" width="7.9" height="7.9" fill="#fff"/>
<rect x="512.7" y="229.6" width="7.9" height="7.9" fill="#fff"/>
<rect x="519.7" y="229.6" width="7.9" height="7.9" fill="#fff"/>
<rect x="526.8" y="229.6" width="7.9" height="7.9" fill="#fff"/>
<rect x="526.8" y="236.6" width="7.9" height="7.9" fill="#fff"/>
<rect class="g" x="506.8" y="202.8" width="5.6" height="5.6"/>
<rect class="g" x="513.9" y="202.8" width="5.6" height="5.6"/>
<rect class="g" x="520.9" y="202.8" width="5.6" height="5.6"/>
<rect class="g" x="528" y="202.8" width="5.6" height="5.6"/>
<rect class="g" x="506.8" y="209.8" width="5.6" height="5.6"/>
<rect class="g" x="513.9" y="209.8" width="5.6" height="5.6"/>
<rect class="g" x="520.9" y="209.8" width="5.6" height="5.6"/>
<rect class="g" x="528" y="209.8" width="5.6" height="5.6"/>
<rect class="g" x="506.8" y="216.8" width="5.6" height="5.6"/>
<rect class="g" x="513.9" y="216.8" width="5.6" height="5.6"/>
<rect class="g" x="520.9" y="216.8" width="5.6" height="5.6"/>
<rect class="g" x="528" y="216.8" width="5.6" height="5.6"/>
<rect class="g" x="485.6" y="223.8" width="5.6" height="5.6"/>
<rect class="g" x="492.7" y="223.8" width="5.6" height="5.6"/>
<rect class="g" x="499.7" y="223.8" width="5.6" height="5.6"/>
<rect class="g" x="506.8" y="223.8" width="5.6" height="5.6"/>
<rect class="g" x="513.9" y="223.8" width="5.6" height="5.6"/>
<rect class="g" x="520.9" y="223.8" width="5.6" height="5.6"/>
<rect class="g" x="528" y="223.8" width="5.6" height="5.6"/>
<rect class="g" x="478.6" y="230.8" width="5.6" height="5.6"/>
<rect class="g" x="485.6" y="230.8" width="5.6" height="5.6"/>
<rect class="g" x="492.7" y="230.8" width="5.6" height="5.6"/>
<rect class="g" x="499.7" y="230.8" width="5.6" height="5.6"/>
<rect class="g" x="506.8" y="230.8" width="5.6" height="5.6"/>
<rect class="g" x="513.9" y="230.8" width="5.6" height="5.6"/>
<rect class="g" x="520.9" y="230.8" width="5.6" height="5.6"/>
<rect class="g" x="528" y="230.8" width="5.6" height="5.6"/>
<rect class="g" x="528" y="237.8" width="5.6" height="5.6"/>
<rect x="542.9" y="236.6" width="7.9" height="7.9" fill="#c3e3fc"/>
<rect x="549.9" y="236.6" width="7.9" height="7.9" fill="#c3e3fc"/>
<rect x="557" y="236.6" width="7.9" height="7.9" fill="#c3e3fc"/>
<rect x="535.8" y="243.5" width="7.9" height="7.9" fill="#c3e3fc"/>
<rect x="542.9" y="243.5" width="7.9" height="7.9" fill="#c3e3fc"/>
<rect x="549.9" y="243.5" width="7.9" height="7.9" fill="#c3e3fc"/>
<rect x="557" y="243.5" width="7.9" height="7.9" fill="#c3e3fc"/>
<rect class="db" x="544.1" y="237.8" width="5.5" height="5.5"/>
<rect class="db" x="551.1" y="237.8" width="5.5" height="5.5"/>
<rect class="db" x="558.2" y="237.8" width="5.5" height="5.5"/>
<rect class="db" x="537" y="244.7" width="5.5" height="5.5"/>
<rect class="db" x="544.1" y="244.7" width="5.5" height="5.5"/>
<rect class="db" x="551.1" y="244.7" width="5.5" height="5.5"/>
<rect class="db" x="558.2" y="244.7" width="5.5" height="5.5"/>
<rect x="571.2" y="249.8" width="7.9" height="7.9" fill="#c3e3fc"/>
<rect x="578.3" y="249.8" width="7.9" height="7.9" fill="#c3e3fc"/>
<rect x="571.2" y="256.7" width="7.9" height="7.9" fill="#c3e3fc"/>
<rect x="578.3" y="256.7" width="7.9" height="7.9" fill="#c3e3fc"/>
<rect class="db" x="572.5" y="250.9" width="5.5" height="5.5"/>
<rect class="db" x="579.5" y="250.9" width="5.5" height="5.5"/>
<rect class="db" x="572.5" y="257.9" width="5.5" height="5.5"/>
<rect class="db" x="579.5" y="257.9" width="5.5" height="5.5"/>
<rect x="542.8" y="218.8" width="7.9" height="7.9" fill="#c3e3fc"/>
<rect x="549.9" y="218.8" width="7.9" height="7.9" fill="#c3e3fc"/>
<rect x="556.9" y="218.8" width="7.9" height="7.9" fill="#c3e3fc"/>
<rect x="564" y="218.8" width="7.9" height="7.9" fill="#c3e3fc"/>
<rect x="571" y="218.8" width="7.9" height="7.9" fill="#c3e3fc"/>
<rect x="542.8" y="225.7" width="7.9" height="7.9" fill="#c3e3fc"/>
<rect x="549.9" y="225.7" width="7.9" height="7.9" fill="#c3e3fc"/>
<rect x="556.9" y="225.7" width="7.9" height="7.9" fill="#c3e3fc"/>
<rect x="564" y="225.7" width="7.9" height="7.9" fill="#c3e3fc"/>
<rect x="571" y="225.7" width="7.9" height="7.9" fill="#c3e3fc"/>
<rect x="578.1" y="225.7" width="7.9" height="7.9" fill="#c3e3fc"/>
<rect class="db" x="544" y="219.9" width="5.5" height="5.5"/>
<rect class="db" x="551.1" y="219.9" width="5.5" height="5.5"/>
<rect class="db" x="558.1" y="219.9" width="5.5" height="5.5"/>
<rect class="db" x="565.2" y="219.9" width="5.5" height="5.5"/>
<rect class="db" x="572.2" y="219.9" width="5.5" height="5.5"/>
<rect class="db" x="544" y="226.9" width="5.5" height="5.5"/>
<rect class="db" x="551.1" y="226.9" width="5.5" height="5.5"/>
<rect class="db" x="558.1" y="226.9" width="5.5" height="5.5"/>
<rect class="db" x="565.2" y="226.9" width="5.5" height="5.5"/>
<rect class="db" x="572.2" y="226.9" width="5.5" height="5.5"/>
<rect class="db" x="579.3" y="226.9" width="5.5" height="5.5"/>
<rect x="535.5" y="193.6" width="7.9" height="7.9" fill="#c3e3fc"/>
<rect x="535.5" y="200.5" width="7.9" height="7.9" fill="#c3e3fc"/>
<rect x="535.5" y="207.5" width="7.9" height="7.9" fill="#c3e3fc"/>
<rect class="db" x="536.8" y="194.8" width="5.5" height="5.5"/>
<rect class="db" x="536.8" y="201.7" width="5.5" height="5.5"/>
<rect class="db" x="536.8" y="208.7" width="5.5" height="5.5"/>
<rect x="553.4" y="193.6" width="7.9" height="7.9" fill="#eef5fc"/>
<rect x="553.4" y="200.5" width="7.9" height="7.9" fill="#eef5fc"/>
<rect x="546.3" y="207.5" width="7.9" height="7.9" fill="#eef5fc"/>
<rect x="553.4" y="207.5" width="7.9" height="7.9" fill="#eef5fc"/>
<rect class="lb" x="554.5" y="194.7" width="5.7" height="5.7"/>
<rect class="lb" x="554.5" y="201.6" width="5.7" height="5.7"/>
<rect class="lb" x="547.4" y="208.6" width="5.7" height="5.7"/>
<rect class="lb" x="554.5" y="208.6" width="5.7" height="5.7"/>
<rect x="559.3" y="172.9" width="7.9" height="7.9" fill="#fff"/>
<rect x="566.4" y="172.9" width="7.9" height="7.9" fill="#fff"/>
<rect x="559.3" y="179.8" width="7.9" height="7.9" fill="#fff"/>
<rect x="566.4" y="179.8" width="7.9" height="7.9" fill="#fff"/>
<rect class="g" x="560.5" y="174" width="5.6" height="5.6"/>
<rect class="g" x="567.5" y="174" width="5.6" height="5.6"/>
<rect class="g" x="560.5" y="181" width="5.6" height="5.6"/>
<rect class="g" x="567.5" y="181" width="5.6" height="5.6"/>
<rect x="555.1" y="260.8" width="7.5" height="7.5" fill="#3a86c9" stroke="#000" stroke-width="1.7"/>
</g>
<g id="labels" class="lab" filter="url(#halo)">
<text x="86.8" y="147.7" textLength="15.1" lengthAdjust="spacingAndGlyphs">WA</text>
<text x="69.2" y="195.2" textLength="12.6" lengthAdjust="spacingAndGlyphs">OR</text>
<text x="127.3" y="209.7" textLength="8.7" lengthAdjust="spacingAndGlyphs">ID</text>
<text x="182.8" y="175.6" textLength="14.4" lengthAdjust="spacingAndGlyphs">MT</text>
<text x="192.2" y="234.7" textLength="15" lengthAdjust="spacingAndGlyphs">WY</text>
<text x="271.1" y="181.2" textLength="12.6" lengthAdjust="spacingAndGlyphs">ND</text>
<text x="268.1" y="220.4" textLength="12" lengthAdjust="spacingAndGlyphs">SD</text>
<text x="272.1" y="261.1" textLength="12.4" lengthAdjust="spacingAndGlyphs">NE</text>
<text x="282.5" y="299.7" textLength="11.6" lengthAdjust="spacingAndGlyphs">KS</text>
<text x="292.7" y="342.7" textLength="12.5" lengthAdjust="spacingAndGlyphs">OK</text>
<text x="261.6" y="375.8" textLength="12.1" lengthAdjust="spacingAndGlyphs">TX</text>
<text x="193.6" y="347.5" textLength="14.6" lengthAdjust="spacingAndGlyphs">NM</text>
<text x="206.2" y="288.8" textLength="13.1" lengthAdjust="spacingAndGlyphs">CO</text>
<text x="145" y="274.8" textLength="13.1" lengthAdjust="spacingAndGlyphs">UT</text>
<text x="131.4" y="335.7" textLength="12" lengthAdjust="spacingAndGlyphs">AZ</text>
<text x="90.6" y="262.8" textLength="12.7" lengthAdjust="spacingAndGlyphs">NV</text>
<text x="44.5" y="242.5" textLength="12.6" lengthAdjust="spacingAndGlyphs">CA</text>
<text x="73.2" y="427.7" textLength="12" lengthAdjust="spacingAndGlyphs">AK</text>
<text x="166.7" y="476.3" textLength="8.4" lengthAdjust="spacingAndGlyphs">HI</text>
<text x="320.6" y="192.2" textLength="14.7" lengthAdjust="spacingAndGlyphs">MN</text>
<text x="334.8" y="251.8" textLength="8.7" lengthAdjust="spacingAndGlyphs">IA</text>
<text x="340.7" y="298.9" textLength="14.6" lengthAdjust="spacingAndGlyphs">MO</text>
<text x="347.9" y="347.7" textLength="11.5" lengthAdjust="spacingAndGlyphs">AR</text>
<text x="345.9" y="396.7" textLength="10.4" lengthAdjust="spacingAndGlyphs">LA</text>
<text x="367.1" y="211.7" textLength="11.5" lengthAdjust="spacingAndGlyphs">WI</text>
<text x="383.2" y="263.8" textLength="6.9" lengthAdjust="spacingAndGlyphs">IL</text>
<text x="411.4" y="266.5" textLength="9.2" lengthAdjust="spacingAndGlyphs">IN</text>
<text x="419.2" y="219.3" textLength="11" lengthAdjust="spacingAndGlyphs">MI</text>
<text x="444.1" y="264.6" textLength="13" lengthAdjust="spacingAndGlyphs">OH</text>
<text x="431.5" y="308.6" textLength="10.9" lengthAdjust="spacingAndGlyphs">KY</text>
<text x="385.1" y="347.7" textLength="12" lengthAdjust="spacingAndGlyphs">TN</text>
<text x="380.7" y="373.8" textLength="13.4" lengthAdjust="spacingAndGlyphs">MS</text>
<text x="410.7" y="368.8" textLength="10.5" lengthAdjust="spacingAndGlyphs">AL</text>
<text x="444.3" y="362.2" textLength="12" lengthAdjust="spacingAndGlyphs">GA</text>
<text x="423.8" y="416.7" textLength="9.4" lengthAdjust="spacingAndGlyphs">FL</text>
<text x="505.1" y="368.6" textLength="11.4" lengthAdjust="spacingAndGlyphs">SC</text>
<text x="525.7" y="341.7" textLength="12.5" lengthAdjust="spacingAndGlyphs">NC</text>
<text x="525.7" y="311.7" textLength="11.5" lengthAdjust="spacingAndGlyphs">VA</text>
<text x="467.1" y="290.4" textLength="14.7" lengthAdjust="spacingAndGlyphs">WV</text>
<text x="506.6" y="248.7" textLength="11.2" lengthAdjust="spacingAndGlyphs">PA</text>
<text x="521.6" y="288.2" textLength="14.1" lengthAdjust="spacingAndGlyphs">MD</text>
<text x="564.2" y="287.2" textLength="12.1" lengthAdjust="spacingAndGlyphs">DE</text>
<text x="564.2" y="297.7" textLength="12.1" lengthAdjust="spacingAndGlyphs">DC</text>
<text x="563.7" y="273.7" textLength="11.1" lengthAdjust="spacingAndGlyphs">NJ</text>
<text x="490.4" y="219.5" textLength="12.3" lengthAdjust="spacingAndGlyphs">NY</text>
<text x="566.3" y="245.4" textLength="11.8" lengthAdjust="spacingAndGlyphs">CT</text>
<text x="587.4" y="258.9" textLength="8.4" lengthAdjust="spacingAndGlyphs">RI</text>
<text x="582.9" y="225" textLength="13.5" lengthAdjust="spacingAndGlyphs">MA</text>
<text x="534.2" y="189.6" textLength="11.6" lengthAdjust="spacingAndGlyphs">VT</text>
<text x="564.3" y="211.7" textLength="13" lengthAdjust="spacingAndGlyphs">NH</text>
<text x="560.7" y="169.6" textLength="13.6" lengthAdjust="spacingAndGlyphs">ME</text>
</g>
</svg>
</body>
</html>
